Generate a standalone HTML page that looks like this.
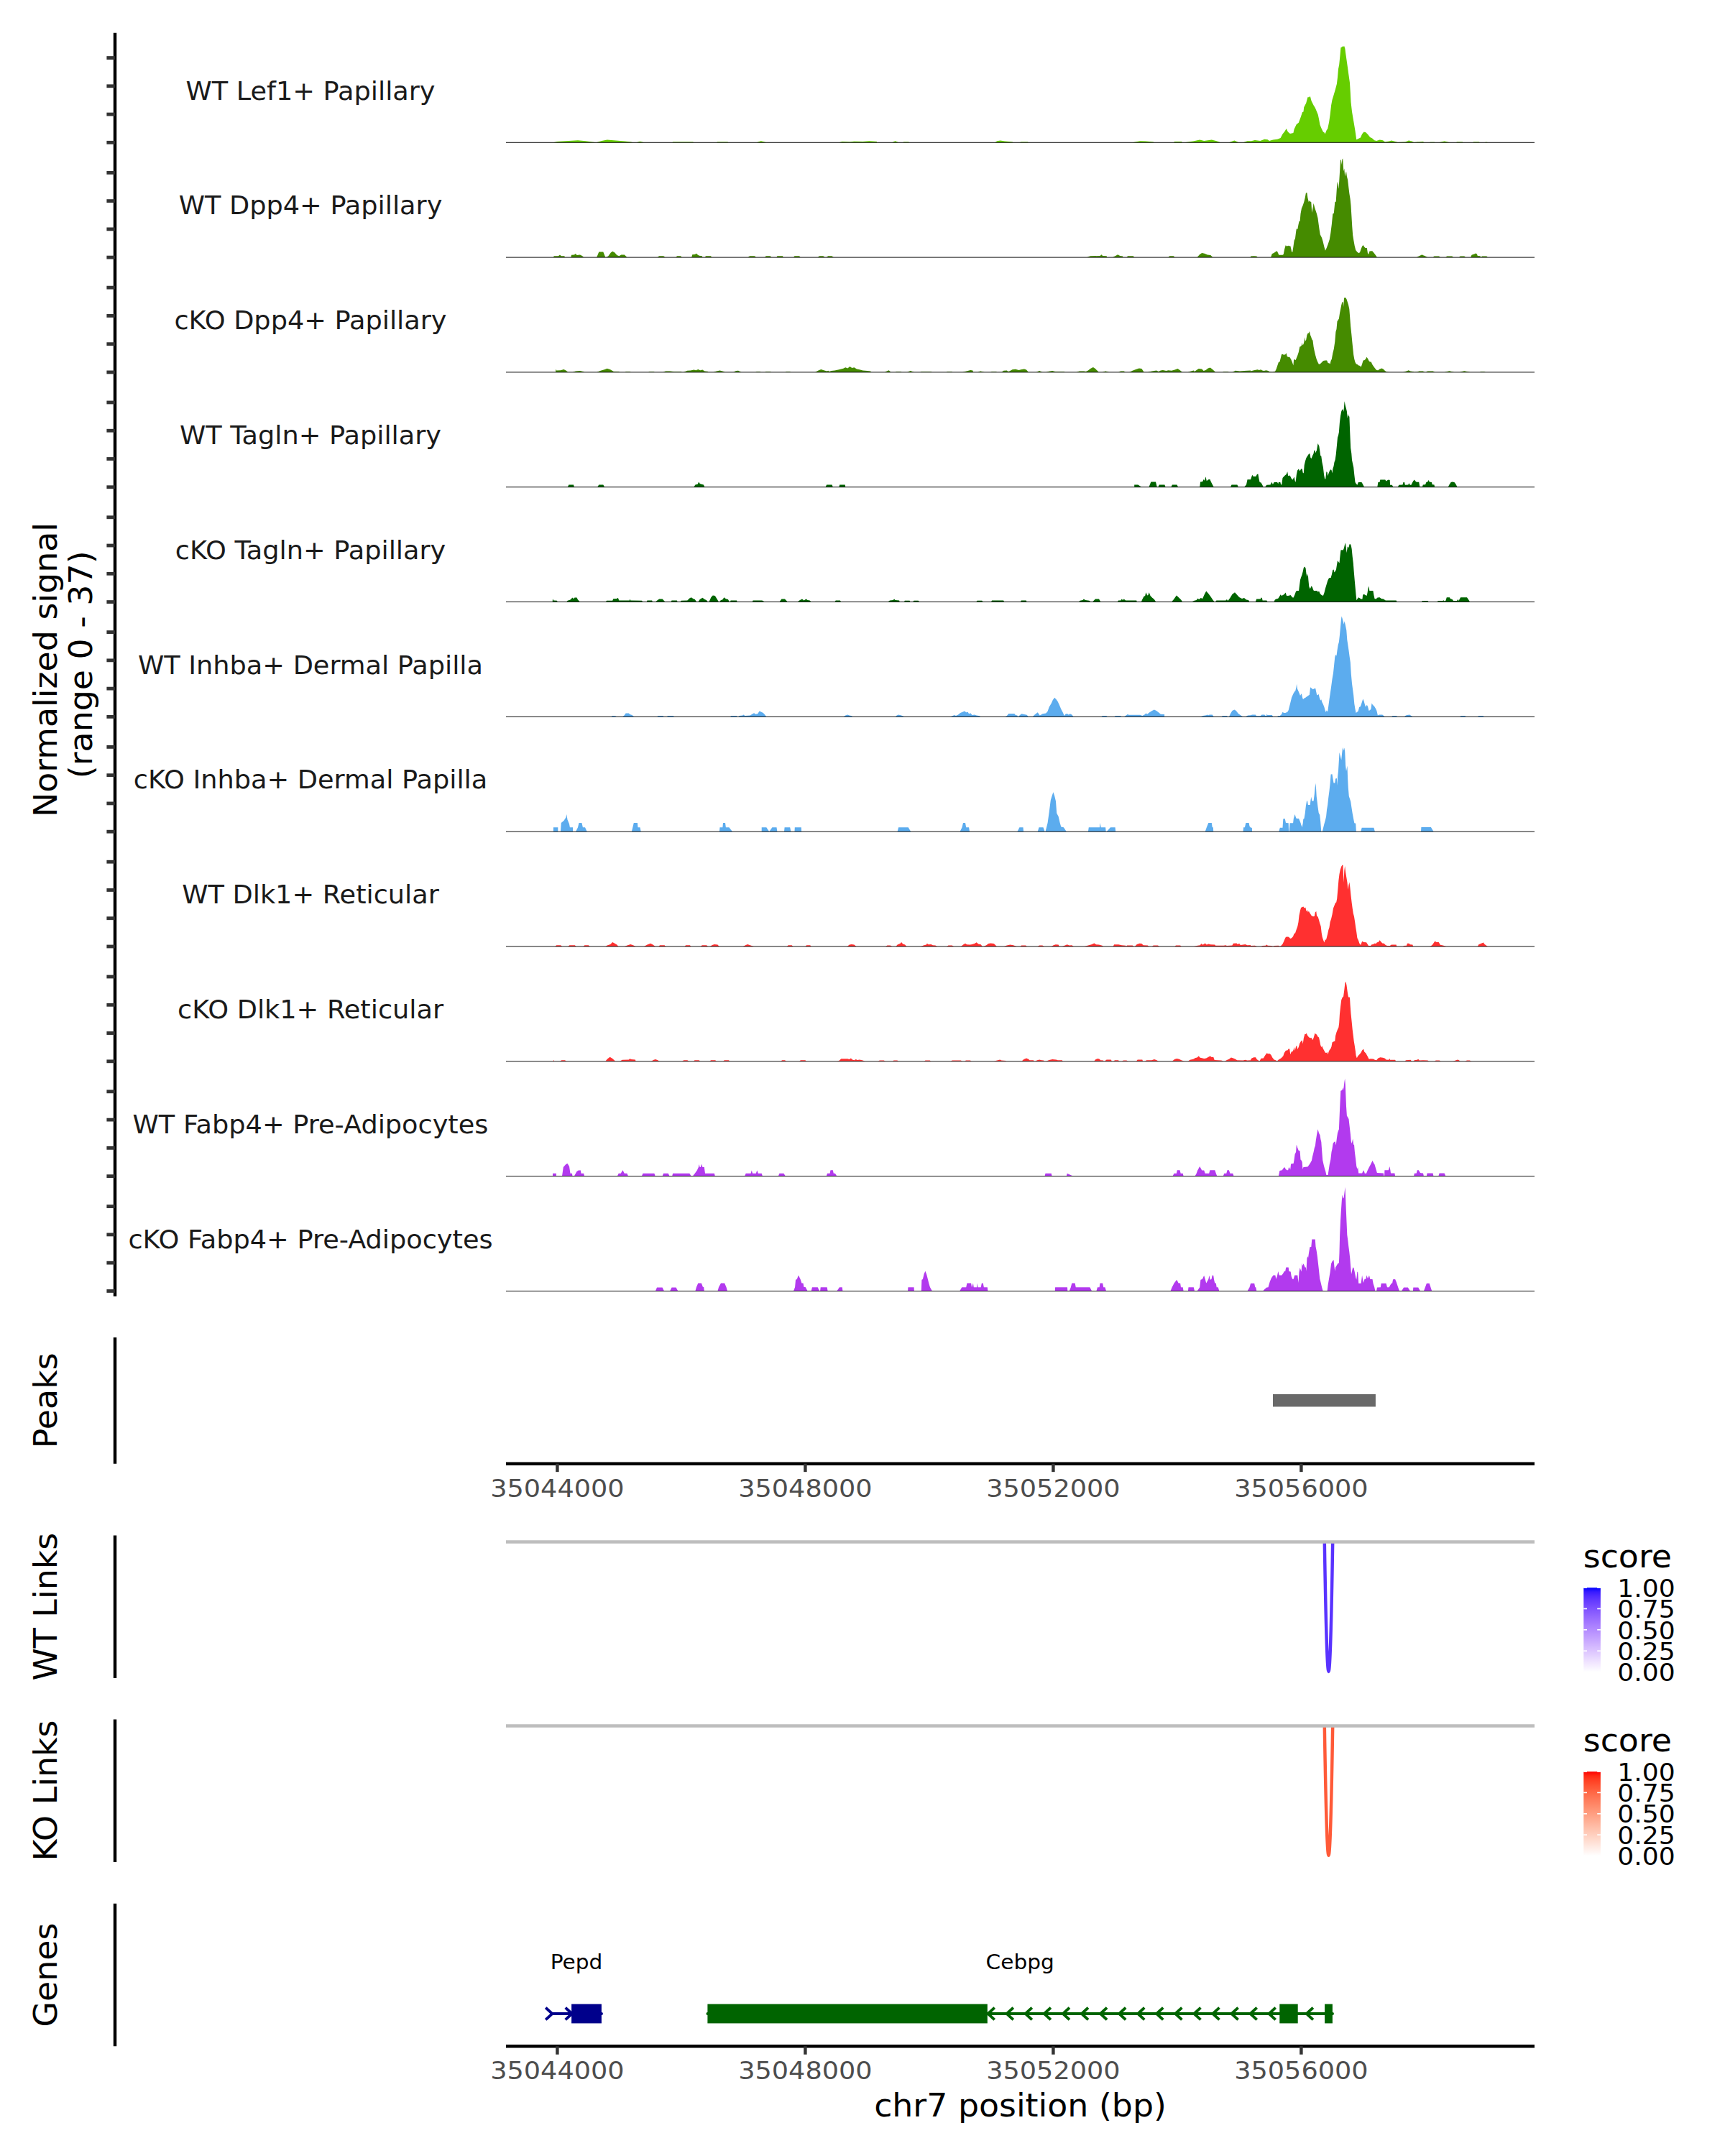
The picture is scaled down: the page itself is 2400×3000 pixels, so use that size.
<!DOCTYPE html>
<html><head><meta charset="utf-8"><title>Coverage plot</title>
<style>html,body{margin:0;padding:0;background:#fff}svg{display:block}</style></head>
<body>
<svg width="2400" height="3000" viewBox="0 0 2400 3000" font-family="DejaVu Sans, Liberation Sans, sans-serif">
<rect width="2400" height="3000" fill="#fff"/>
<defs>
<linearGradient id="gb" x1="0" y1="0" x2="0" y2="1">
<stop offset="0.00" stop-color="#0000ff"/>
<stop offset="0.05" stop-color="#381bff"/>
<stop offset="0.10" stop-color="#502bff"/>
<stop offset="0.15" stop-color="#6239ff"/>
<stop offset="0.20" stop-color="#7145ff"/>
<stop offset="0.25" stop-color="#7e52ff"/>
<stop offset="0.30" stop-color="#8a5dff"/>
<stop offset="0.35" stop-color="#9569ff"/>
<stop offset="0.40" stop-color="#a074ff"/>
<stop offset="0.45" stop-color="#aa80ff"/>
<stop offset="0.50" stop-color="#b38bff"/>
<stop offset="0.55" stop-color="#bc97ff"/>
<stop offset="0.60" stop-color="#c4a2ff"/>
<stop offset="0.65" stop-color="#ccadff"/>
<stop offset="0.70" stop-color="#d4b9ff"/>
<stop offset="0.75" stop-color="#dcc4ff"/>
<stop offset="0.80" stop-color="#e3d0ff"/>
<stop offset="0.85" stop-color="#ebdcff"/>
<stop offset="0.90" stop-color="#f2e7ff"/>
<stop offset="0.95" stop-color="#f8f3ff"/>
<stop offset="1.00" stop-color="#ffffff"/>
</linearGradient>
<linearGradient id="gr" x1="0" y1="0" x2="0" y2="1">
<stop offset="0.00" stop-color="#ff0000"/>
<stop offset="0.05" stop-color="#ff2913"/>
<stop offset="0.10" stop-color="#ff3e22"/>
<stop offset="0.15" stop-color="#ff4d2e"/>
<stop offset="0.20" stop-color="#ff5b3a"/>
<stop offset="0.25" stop-color="#ff6846"/>
<stop offset="0.30" stop-color="#ff7352"/>
<stop offset="0.35" stop-color="#ff7e5e"/>
<stop offset="0.40" stop-color="#ff8969"/>
<stop offset="0.45" stop-color="#ff9475"/>
<stop offset="0.50" stop-color="#ff9e81"/>
<stop offset="0.55" stop-color="#ffa88d"/>
<stop offset="0.60" stop-color="#ffb299"/>
<stop offset="0.65" stop-color="#ffbca6"/>
<stop offset="0.70" stop-color="#ffc6b2"/>
<stop offset="0.75" stop-color="#ffcfbf"/>
<stop offset="0.80" stop-color="#ffd9cb"/>
<stop offset="0.85" stop-color="#ffe2d8"/>
<stop offset="0.90" stop-color="#ffece5"/>
<stop offset="0.95" stop-color="#fff5f2"/>
<stop offset="1.00" stop-color="#ffffff"/>
</linearGradient>
</defs>
<path fill="#66cd00" d="M1740.0,198.3 L1740.0,196.5 L1745.9,195.0 L1753.4,196.1 L1759.3,193.8 L1763.7,194.3 L1766.0,196.1 L1771.2,194.6 L1777.1,193.8 L1781.6,192.1 L1784.5,186.4 L1787.5,182.7 L1789.7,179.0 L1791.9,183.5 L1794.9,186.1 L1797.1,185.4 L1799.4,184.9 L1800.6,179.7 L1803.8,173.1 L1806.8,170.8 L1809.8,162.7 L1812.0,156.0 L1813.5,155.6 L1814.2,149.3 L1817.2,143.4 L1819.4,135.2 L1821.6,135.2 L1822.8,133.7 L1824.6,140.4 L1827.6,146.4 L1829.8,150.1 L1832.0,155.3 L1833.8,159.7 L1835.0,165.6 L1836.5,173.8 L1838.7,179.0 L1840.9,183.5 L1842.4,184.2 L1843.6,186.4 L1845.4,181.7 L1847.2,179.0 L1849.1,170.1 L1850.6,159.7 L1852.1,146.4 L1853.5,138.9 L1855.8,131.5 L1858.0,124.1 L1859.9,116.7 L1861.0,107.8 L1862.0,95.9 L1863.2,90.0 L1864.4,78.1 L1865.4,66.2 L1866.9,65.5 L1867.9,64.4 L1869.1,64.7 L1870.3,64.3 L1871.4,67.7 L1872.1,73.6 L1873.6,84.0 L1875.1,94.4 L1876.5,104.8 L1878.0,115.2 L1878.8,128.5 L1879.5,141.9 L1881.0,155.3 L1882.5,164.2 L1884.0,173.1 L1885.5,182.0 L1887.2,194.3 L1889.9,193.1 L1892.9,191.6 L1895.1,186.4 L1897.6,183.5 L1900.3,184.2 L1903.3,187.2 L1906.2,190.9 L1909.2,192.4 L1912.2,195.3 L1915.1,196.1 L1919.6,194.6 L1924.0,195.3 L1927.0,197.6 L1932.9,196.5 L1935.9,195.6 L1940.4,196.8 L1944.8,198.0 L1955.2,197.6 L1959.7,195.8 L1964.1,196.5 L1967.1,198.0 L1974.5,197.6 L1980.0,197.1 L1980.0,198.3 Z M769.9,198.3 L769.9,198.3 L775.4,197.1 L787.4,196.2 L804.0,195.3 L814.6,196.2 L823.6,197.4 L829.6,198.3 L829.6,198.3 Z M829.6,198.3 L829.6,198.3 L837.2,195.9 L844.7,194.4 L856.8,195.6 L868.8,196.5 L877.9,197.4 L880.9,198.3 L880.9,198.3 Z M885.4,198.3 L885.4,198.3 L890.5,196.8 L896.0,198.3 L896.0,198.3 Z M935.2,198.3 L935.2,198.3 L936.4,197.4 L964.1,197.4 L965.3,198.3 L965.3,198.3 Z M997.0,198.3 L997.0,198.3 L998.2,197.4 L1012.3,197.4 L1013.5,198.3 L1013.5,198.3 Z M1052.7,198.3 L1052.7,198.3 L1058.8,196.2 L1066.3,198.3 L1066.3,198.3 Z M1167.3,198.3 L1167.3,198.3 L1171.8,197.1 L1182.4,197.4 L1188.4,196.8 L1200.5,197.1 L1209.5,196.2 L1220.0,197.1 L1220.0,198.3 L1220.0,198.3 Z M1241.1,198.3 L1241.1,198.3 L1245.6,196.2 L1250.1,198.3 L1250.1,198.3 Z M1256.2,198.3 L1256.2,198.3 L1257.4,197.4 L1264.0,197.4 L1265.2,198.3 L1265.2,198.3 Z M1384.3,198.3 L1384.3,198.3 L1387.3,196.2 L1391.8,195.6 L1397.9,196.5 L1408.4,197.4 L1409.9,198.3 L1409.9,198.3 Z M1419.0,198.3 L1419.0,198.3 L1420.2,197.4 L1429.8,197.4 L1431.0,198.3 L1431.0,198.3 Z M1575.7,198.3 L1575.7,198.3 L1586.3,196.2 L1593.8,196.5 L1604.4,197.4 L1605.9,198.3 L1605.9,198.3 Z M1633.0,198.3 L1633.0,198.3 L1634.2,197.1 L1643.9,197.1 L1645.1,198.3 L1645.1,198.3 Z M1648.1,198.3 L1648.1,198.3 L1660.2,196.5 L1669.2,194.4 L1675.2,195.9 L1685.8,194.4 L1691.8,195.9 L1696.3,197.4 L1697.8,198.3 L1697.8,198.3 Z M1709.9,198.3 L1709.9,198.3 L1717.4,195.6 L1723.5,198.3 L1723.5,198.3 Z M1729.5,198.3 L1729.5,198.3 L1735.5,196.2 L1740.0,196.2 L1740.0,198.3 L1740.0,198.3 Z M1954.7,198.3 L1954.7,198.3 L1960.3,195.5 L1967.7,198.3 L1967.7,198.3 Z M1970.5,198.3 L1970.5,198.3 L1971.2,197.4 L1980.9,197.4 L1981.6,198.3 L1981.6,198.3 Z M1989.1,198.3 L1989.1,198.3 L1989.8,197.7 L1995.7,197.7 L1996.5,198.3 L1996.5,198.3 Z M2002.0,198.3 L2002.0,198.3 L2009.8,196.6 L2016.9,198.3 L2016.9,198.3 Z M2026.2,198.3 L2026.2,198.3 L2026.9,197.6 L2034.7,197.6 L2035.4,198.3 L2035.4,198.3 Z M2049.4,198.3 L2049.4,198.3 L2050.1,197.6 L2057.9,197.6 L2058.6,198.3 L2058.6,198.3 Z M2066.0,198.3 L2066.0,198.3 L2066.8,197.7 L2069.0,197.7 L2069.8,198.3 L2069.8,198.3 Z"/>
<line x1="704.0" x2="2135.0" y1="198.30" y2="198.30" stroke="#111" stroke-width="1.0"/>
<path fill="#458b00" d="M1740.0,358.1 L1740.0,356.6 L1744.5,356.2 L1748.2,356.6 L1749.6,358.1 L1768.2,358.1 L1769.7,353.2 L1772.7,351.7 L1774.9,350.2 L1776.8,349.2 L1778.3,352.5 L1779.3,354.7 L1784.5,354.7 L1785.7,354.0 L1787.2,346.5 L1788.7,341.3 L1790.5,342.8 L1792.2,341.8 L1793.7,342.5 L1795.2,342.1 L1796.4,346.5 L1797.1,350.2 L1798.2,351.0 L1799.4,343.6 L1800.6,334.7 L1802.0,331.7 L1803.1,322.8 L1803.8,318.3 L1805.3,319.1 L1806.5,312.4 L1807.5,307.9 L1808.6,307.7 L1809.5,297.6 L1810.9,290.1 L1812.7,285.7 L1814.2,281.2 L1815.7,275.3 L1816.9,268.6 L1818.4,267.9 L1819.4,275.3 L1820.9,281.2 L1821.9,279.0 L1823.1,280.5 L1824.3,281.2 L1825.3,296.1 L1826.4,290.1 L1827.6,282.7 L1829.1,288.7 L1830.5,293.1 L1832.0,297.6 L1833.5,303.5 L1834.7,312.4 L1835.7,319.8 L1836.8,326.5 L1838.0,328.7 L1839.1,331.0 L1840.6,336.1 L1842.4,343.6 L1843.9,348.8 L1845.7,345.1 L1847.6,339.9 L1849.8,333.2 L1851.3,324.3 L1852.8,312.4 L1854.3,297.6 L1855.8,296.8 L1857.3,281.2 L1858.7,280.5 L1859.5,267.9 L1860.5,253.0 L1861.4,256.0 L1862.3,262.7 L1863.2,253.0 L1864.1,238.2 L1865.0,223.3 L1865.9,221.9 L1866.6,229.3 L1867.3,221.9 L1868.2,220.4 L1868.8,230.8 L1869.4,238.2 L1870.3,234.5 L1871.2,245.6 L1872.1,241.2 L1873.0,238.2 L1873.9,245.6 L1875.1,250.1 L1876.3,260.5 L1877.4,269.4 L1878.6,276.8 L1879.5,285.7 L1880.4,300.5 L1881.3,315.4 L1882.2,327.2 L1883.4,334.7 L1884.7,342.1 L1886.2,348.0 L1888.4,350.7 L1890.6,352.2 L1892.1,351.0 L1893.6,346.5 L1895.1,342.8 L1896.6,341.0 L1898.1,343.6 L1899.6,345.1 L1901.8,345.1 L1903.0,352.5 L1904.0,354.0 L1905.5,349.5 L1909.2,349.2 L1911.4,351.7 L1913.7,354.7 L1915.9,358.1 L1970.8,358.1 L1974.5,356.2 L1977.5,354.7 L1980.0,354.7 L1980.0,358.1 Z M769.9,358.1 L769.9,358.1 L770.8,356.3 L776.9,356.3 L779.0,354.5 L780.8,356.3 L785.3,356.3 L785.9,358.1 L785.9,358.1 Z M794.4,358.1 L794.4,358.1 L795.0,354.8 L798.9,354.5 L801.0,353.0 L802.5,355.1 L807.0,354.5 L810.0,356.0 L812.1,358.1 L812.1,358.1 Z M830.2,358.1 L830.2,358.1 L833.3,350.6 L839.3,350.6 L842.3,358.1 L842.3,358.1 Z M843.2,358.1 L843.2,358.1 L846.2,356.6 L849.8,351.5 L852.2,349.7 L855.3,351.5 L858.3,355.1 L861.3,356.3 L864.3,354.5 L868.8,354.5 L872.4,358.1 L872.4,358.1 Z M914.7,358.1 L914.7,358.1 L917.1,356.3 L923.1,356.3 L925.5,358.1 L925.5,358.1 Z M940.3,358.1 L940.3,358.1 L942.1,356.3 L946.9,356.3 L948.7,358.1 L948.7,358.1 Z M962.3,358.1 L962.3,358.1 L963.2,354.2 L966.8,353.9 L968.9,352.7 L970.7,354.5 L972.8,355.7 L976.8,356.3 L977.4,358.1 L977.4,358.1 Z M981.0,358.1 L981.0,358.1 L981.9,356.3 L989.1,356.3 L990.0,358.1 L990.0,358.1 Z M1040.7,358.1 L1040.7,358.1 L1043.1,356.3 L1049.7,356.3 L1052.1,358.1 L1052.1,358.1 Z M1064.2,358.1 L1064.2,358.1 L1065.7,356.3 L1071.7,356.3 L1073.2,358.1 L1073.2,358.1 Z M1080.5,358.1 L1080.5,358.1 L1081.4,356.3 L1088.9,356.3 L1089.8,358.1 L1089.8,358.1 Z M1104.0,358.1 L1104.0,358.1 L1105.5,356.3 L1112.1,356.3 L1113.6,358.1 L1113.6,358.1 Z M1137.7,358.1 L1137.7,358.1 L1140.2,356.3 L1145.3,356.3 L1147.7,358.1 L1147.7,358.1 Z M1149.8,358.1 L1149.8,358.1 L1152.2,356.3 L1157.3,356.3 L1159.8,358.1 L1159.8,358.1 Z M1512.4,358.1 L1512.4,358.1 L1517.0,356.3 L1530.5,356.0 L1532.6,354.2 L1534.1,356.0 L1539.6,356.3 L1540.2,358.1 L1540.2,358.1 Z M1548.0,358.1 L1548.0,358.1 L1551.6,356.3 L1555.2,354.2 L1558.3,356.0 L1562.2,356.6 L1562.2,358.1 L1562.2,358.1 Z M1567.6,358.1 L1567.6,358.1 L1569.1,356.3 L1576.6,356.3 L1578.2,358.1 L1578.2,358.1 Z M1625.5,358.1 L1625.5,358.1 L1627.3,356.3 L1632.7,356.3 L1634.5,358.1 L1634.5,358.1 Z M1665.6,358.1 L1665.6,358.1 L1669.2,353.9 L1672.2,352.1 L1675.8,352.7 L1679.8,354.5 L1684.3,355.1 L1687.3,358.1 L1687.3,358.1 Z M1970.5,358.1 L1970.5,358.1 L1974.2,356.6 L1977.9,354.4 L1981.6,355.7 L1986.3,358.1 L1986.3,358.1 Z M1993.7,358.1 L1993.7,358.1 L1995.5,356.6 L2002.0,356.6 L2003.9,358.1 L2003.9,358.1 Z M2011.3,358.1 L2011.3,358.1 L2013.2,356.6 L2020.2,356.6 L2022.1,358.1 L2022.1,358.1 Z M2029.9,358.1 L2029.9,358.1 L2031.7,356.6 L2037.3,356.6 L2039.1,358.1 L2039.1,358.1 Z M2046.2,358.1 L2046.2,358.1 L2047.5,354.8 L2051.2,353.5 L2053.1,352.5 L2054.9,353.5 L2055.8,355.9 L2059.6,356.3 L2059.9,358.1 L2059.9,358.1 Z M2060.5,358.1 L2060.5,358.1 L2062.0,356.6 L2068.3,356.6 L2069.8,358.1 L2069.8,358.1 Z"/>
<line x1="704.0" x2="2135.0" y1="358.12" y2="358.12" stroke="#111" stroke-width="1.0"/>
<path fill="#458b00" d="M1740.0,517.9 L1740.0,516.4 L1744.5,515.3 L1749.6,514.2 L1751.9,515.0 L1754.1,514.2 L1756.3,515.6 L1758.6,516.0 L1761.5,515.3 L1764.5,516.0 L1766.7,517.5 L1770.4,517.8 L1774.1,516.7 L1775.6,513.8 L1777.1,509.3 L1778.9,504.1 L1780.4,503.4 L1781.6,498.9 L1783.0,493.3 L1784.5,492.7 L1786.0,493.7 L1788.2,493.3 L1789.7,491.2 L1790.8,496.0 L1792.2,496.7 L1794.2,496.7 L1796.1,499.7 L1797.9,504.1 L1799.4,508.6 L1800.1,500.7 L1801.6,500.1 L1802.6,501.2 L1803.8,498.2 L1805.3,494.5 L1806.8,490.0 L1808.3,482.6 L1809.8,481.9 L1810.9,480.4 L1811.7,476.7 L1812.4,480.4 L1813.5,478.9 L1814.5,475.2 L1815.4,469.2 L1816.1,474.4 L1817.2,473.0 L1818.4,466.3 L1819.4,464.1 L1820.9,463.3 L1821.9,461.1 L1823.1,466.3 L1824.3,469.2 L1825.3,472.2 L1826.5,473.7 L1827.6,482.6 L1828.8,488.5 L1830.2,494.5 L1831.7,499.7 L1833.2,503.4 L1835.0,507.1 L1837.2,506.1 L1839.1,504.1 L1841.2,501.9 L1843.9,501.6 L1846.1,501.6 L1847.6,504.9 L1849.5,505.6 L1850.6,506.4 L1851.6,501.9 L1852.8,499.7 L1854.3,491.5 L1855.8,485.6 L1857.3,475.2 L1858.4,461.8 L1859.5,458.1 L1860.5,447.0 L1861.7,445.5 L1862.9,443.3 L1863.9,436.6 L1865.0,430.7 L1866.2,424.7 L1867.3,420.3 L1868.5,420.6 L1869.1,426.9 L1870.0,415.1 L1870.9,414.0 L1872.4,414.6 L1873.6,416.6 L1874.8,420.3 L1876.0,424.0 L1877.3,429.9 L1878.3,442.5 L1879.2,454.4 L1880.3,464.8 L1881.3,475.2 L1882.2,484.1 L1883.2,493.7 L1884.3,499.7 L1885.5,504.1 L1886.9,506.4 L1888.4,507.1 L1890.2,508.6 L1892.1,509.0 L1893.6,510.8 L1895.1,506.4 L1896.6,501.6 L1898.1,501.2 L1900.0,499.7 L1901.5,496.7 L1903.0,498.9 L1904.5,501.9 L1905.9,503.4 L1907.7,503.4 L1909.2,507.1 L1910.7,509.3 L1912.9,512.3 L1915.1,515.0 L1917.4,515.3 L1919.6,513.5 L1922.6,512.6 L1924.8,513.8 L1927.0,516.0 L1929.2,517.5 L1932.9,517.9 L1952.2,517.9 L1956.7,516.4 L1959.7,515.6 L1962.6,516.7 L1967.1,517.8 L1971.5,517.5 L1974.5,516.4 L1980.0,516.7 L1980.0,517.9 Z M773.0,517.9 L773.0,517.9 L773.3,513.4 L774.2,515.5 L779.9,515.2 L784.4,514.0 L787.4,515.5 L790.4,517.9 L790.4,517.9 Z M796.5,517.9 L796.5,517.9 L801.0,516.4 L807.0,516.1 L812.1,517.3 L813.1,517.9 L813.1,517.9 Z M830.2,517.9 L830.2,517.9 L835.7,515.8 L841.7,514.0 L844.7,512.8 L849.2,514.3 L853.8,517.0 L861.3,517.3 L861.9,517.9 L861.9,517.9 Z M869.4,517.9 L869.4,517.9 L870.9,517.3 L876.4,517.3 L877.9,517.9 L877.9,517.9 Z M902.0,517.9 L902.0,517.9 L903.5,517.3 L909.5,517.3 L911.0,517.9 L911.0,517.9 Z M922.5,517.9 L922.5,517.9 L926.1,516.4 L932.1,516.4 L938.2,517.3 L947.8,517.3 L948.7,517.9 L948.7,517.9 Z M950.8,517.9 L950.8,517.9 L956.3,515.8 L960.8,515.5 L965.3,514.6 L968.3,515.2 L971.3,514.0 L974.3,515.2 L977.4,514.6 L980.4,516.4 L984.9,517.0 L985.5,517.9 L985.5,517.9 Z M992.4,517.9 L992.4,517.9 L997.0,516.4 L1001.5,515.5 L1006.0,516.7 L1009.0,517.9 L1009.0,517.9 Z M1020.2,517.9 L1020.2,517.9 L1024.1,516.1 L1027.1,515.8 L1031.6,517.9 L1031.6,517.9 Z M1051.2,517.9 L1051.2,517.9 L1052.7,517.3 L1057.3,517.3 L1058.8,517.9 L1058.8,517.9 Z M1064.2,517.9 L1064.2,517.9 L1065.7,517.3 L1071.7,517.3 L1073.2,517.9 L1073.2,517.9 Z M1092.5,517.9 L1092.5,517.9 L1094.0,517.3 L1098.9,517.3 L1100.4,517.9 L1100.4,517.9 Z M1134.1,517.9 L1134.1,517.9 L1138.6,515.5 L1142.3,514.0 L1146.2,515.2 L1150.7,516.4 L1152.2,515.8 L1153.7,517.0 L1156.7,516.1 L1161.3,515.5 L1167.3,514.3 L1173.3,512.8 L1176.3,511.3 L1179.3,512.5 L1182.4,510.1 L1185.4,511.9 L1188.4,511.3 L1192.0,513.4 L1195.9,514.3 L1200.5,515.5 L1206.5,516.1 L1211.0,516.4 L1212.5,517.9 L1212.5,517.9 Z M1230.6,517.9 L1230.6,517.9 L1236.6,515.2 L1239.6,517.9 L1239.6,517.9 Z M1245.6,517.9 L1245.6,517.9 L1247.1,517.3 L1253.2,517.3 L1254.7,517.9 L1254.7,517.9 Z M1262.2,517.9 L1262.2,517.9 L1266.7,516.1 L1271.9,517.9 L1271.9,517.9 Z M1280.3,517.9 L1280.3,517.9 L1281.8,517.3 L1295.4,517.3 L1296.9,517.9 L1296.9,517.9 Z M1316.5,517.9 L1316.5,517.9 L1318.0,517.3 L1324.0,517.3 L1325.5,517.9 L1325.5,517.9 Z M1339.1,517.9 L1339.1,517.9 L1346.6,516.1 L1350.2,514.9 L1353.3,515.5 L1354.2,517.9 L1354.2,517.9 Z M1360.2,517.9 L1360.2,517.9 L1364.1,516.4 L1369.8,517.9 L1369.8,517.9 Z M1378.3,517.9 L1378.3,517.9 L1379.8,517.3 L1385.8,517.3 L1387.3,517.9 L1387.3,517.9 Z M1393.3,517.9 L1393.3,517.9 L1396.4,515.8 L1400.9,515.5 L1402.4,517.0 L1404.5,516.4 L1408.4,514.3 L1412.9,513.7 L1417.5,514.9 L1420.5,514.3 L1425.0,513.4 L1428.0,514.6 L1431.0,517.9 L1431.0,517.9 Z M1441.6,517.9 L1441.6,517.9 L1446.1,516.1 L1450.6,517.9 L1450.6,517.9 Z M1455.2,517.9 L1455.2,517.9 L1459.7,516.7 L1464.2,516.1 L1468.7,517.3 L1480.8,517.3 L1481.4,517.9 L1481.4,517.9 Z M1497.4,517.9 L1497.4,517.9 L1501.9,516.4 L1507.9,516.4 L1510.9,517.0 L1513.9,515.5 L1517.0,513.1 L1520.9,511.0 L1523.9,513.1 L1527.5,516.4 L1528.7,517.9 L1528.7,517.9 Z M1533.5,517.9 L1533.5,517.9 L1538.1,516.4 L1543.2,517.9 L1543.2,517.9 Z M1556.1,517.9 L1556.1,517.9 L1559.2,516.4 L1563.7,516.4 L1565.8,517.9 L1565.8,517.9 Z M1571.2,517.9 L1571.2,517.9 L1575.7,515.8 L1580.3,514.0 L1584.8,512.5 L1588.4,513.1 L1590.8,516.4 L1591.4,517.9 L1591.4,517.9 Z M1596.8,517.9 L1596.8,517.9 L1602.9,516.4 L1608.9,515.5 L1611.9,517.0 L1614.9,515.5 L1617.9,514.9 L1622.5,516.1 L1625.5,515.2 L1630.0,515.8 L1634.5,514.6 L1638.5,513.1 L1641.5,514.9 L1645.1,517.9 L1645.1,517.9 Z M1652.6,517.9 L1652.6,517.9 L1657.1,516.4 L1660.8,515.5 L1662.0,517.0 L1664.7,514.9 L1667.7,513.1 L1672.2,513.4 L1674.6,516.1 L1677.6,514.9 L1680.7,512.5 L1683.7,511.6 L1686.7,513.7 L1690.3,517.0 L1690.9,517.9 L1690.9,517.9 Z M1700.9,517.9 L1700.9,517.9 L1702.4,517.3 L1708.4,517.3 L1709.9,517.9 L1709.9,517.9 Z M1714.4,517.9 L1714.4,517.9 L1718.9,515.8 L1725.0,516.4 L1731.0,516.1 L1740.0,515.5 L1740.0,517.9 L1740.0,517.9 Z M1951.9,517.9 L1951.9,517.9 L1956.6,516.8 L1959.7,515.3 L1962.2,516.4 L1966.8,517.2 L1967.7,517.9 L1967.7,517.9 Z M1971.4,517.9 L1971.4,517.9 L1974.2,516.4 L1979.8,516.4 L1982.6,517.9 L1982.6,517.9 Z M1983.5,517.9 L1983.5,517.9 L1986.3,516.4 L1993.7,516.4 L1996.5,517.9 L1996.5,517.9 Z M2009.5,517.9 L2009.5,517.9 L2016.5,516.3 L2023.4,517.9 L2023.4,517.9 Z M2030.8,517.9 L2030.8,517.9 L2037.3,516.3 L2045.6,517.9 L2045.6,517.9 Z M2058.6,517.9 L2058.6,517.9 L2060.5,517.2 L2065.1,517.2 L2067.0,517.9 L2067.0,517.9 Z"/>
<line x1="704.0" x2="2135.0" y1="517.93" y2="517.93" stroke="#111" stroke-width="1.0"/>
<path fill="#006400" d="M1740.0,677.7 L1740.0,667.4 L1742.2,660.7 L1743.7,662.9 L1747.4,662.9 L1748.9,659.9 L1750.4,659.6 L1751.6,666.6 L1752.6,671.1 L1754.5,671.4 L1756.3,674.8 L1757.8,677.7 L1760.0,677.7 L1762.3,674.8 L1767.5,674.5 L1769.4,670.8 L1770.9,674.0 L1772.7,671.1 L1777.1,671.1 L1778.3,673.3 L1778.9,671.1 L1781.3,671.1 L1782.3,674.8 L1783.3,674.0 L1784.5,665.1 L1786.3,662.9 L1787.8,661.4 L1789.7,659.9 L1791.2,656.2 L1792.2,662.2 L1794.2,661.4 L1795.7,663.6 L1797.1,666.6 L1798.6,667.4 L1800.6,663.6 L1801.6,668.8 L1802.6,671.1 L1803.8,660.7 L1805.0,654.7 L1806.8,652.5 L1808.6,655.5 L1810.1,652.5 L1811.7,652.5 L1812.7,657.7 L1813.8,658.5 L1814.7,647.3 L1816.0,641.4 L1817.5,636.9 L1819.4,634.0 L1820.9,631.7 L1822.4,631.0 L1823.4,636.9 L1824.6,638.1 L1826.1,634.0 L1827.6,631.0 L1828.3,626.8 L1829.5,626.8 L1830.2,630.2 L1832.0,626.5 L1833.5,616.9 L1835.3,620.6 L1836.5,628.8 L1837.2,634.0 L1838.3,634.7 L1839.4,642.9 L1840.9,650.3 L1842.1,660.7 L1843.2,666.6 L1844.2,666.6 L1845.4,656.2 L1846.6,657.0 L1847.2,662.2 L1848.6,658.5 L1850.1,654.7 L1851.6,653.3 L1852.5,654.0 L1853.5,658.5 L1854.3,652.5 L1855.5,648.8 L1856.5,642.9 L1857.6,639.9 L1858.7,632.5 L1859.9,620.6 L1861.0,608.7 L1862.0,605.8 L1862.9,601.3 L1863.9,587.9 L1865.0,579.0 L1866.2,572.4 L1867.3,570.1 L1868.5,569.4 L1869.4,573.1 L1870.6,558.3 L1871.8,564.2 L1873.0,568.7 L1873.9,572.4 L1874.8,582.0 L1875.7,576.1 L1876.5,579.0 L1877.4,579.8 L1878.3,602.8 L1879.2,623.6 L1880.3,631.0 L1881.0,639.9 L1882.2,645.8 L1883.2,650.3 L1884.3,660.7 L1885.5,671.1 L1886.9,673.3 L1888.4,674.8 L1889.9,671.1 L1894.4,671.1 L1895.8,673.3 L1898.1,677.7 L1916.3,677.7 L1917.4,671.1 L1919.6,670.8 L1920.3,667.4 L1927.3,667.4 L1928.5,669.6 L1930.7,668.1 L1932.2,667.4 L1933.7,668.1 L1934.1,674.8 L1936.7,674.8 L1938.6,677.7 L1944.8,677.7 L1946.3,674.8 L1951.5,674.5 L1952.5,671.1 L1954.0,671.1 L1954.9,674.8 L1959.4,674.5 L1960.1,672.3 L1961.9,674.8 L1963.4,674.8 L1964.9,671.8 L1966.3,669.3 L1967.8,667.4 L1969.3,669.6 L1970.8,670.8 L1974.2,670.8 L1975.3,677.0 L1979.0,677.0 L1980.0,674.8 L1980.0,677.7 Z M789.8,677.7 L789.8,677.7 L791.3,674.4 L798.0,674.4 L798.9,677.7 L798.9,677.7 Z M831.1,677.7 L831.1,677.7 L833.3,674.4 L839.3,674.4 L841.1,677.7 L841.1,677.7 Z M965.3,677.7 L965.3,677.7 L967.4,674.4 L970.7,673.8 L972.2,670.5 L973.7,672.9 L975.9,673.8 L978.9,674.4 L980.4,677.7 L980.4,677.7 Z M1148.6,677.7 L1148.6,677.7 L1150.1,674.4 L1157.6,674.4 L1158.8,677.7 L1158.8,677.7 Z M1167.3,677.7 L1167.3,677.7 L1168.2,674.4 L1175.7,674.4 L1176.3,677.7 L1176.3,677.7 Z M1578.2,677.7 L1578.2,677.7 L1578.2,674.4 L1583.3,674.4 L1588.4,677.7 L1588.4,677.7 Z M1598.4,677.7 L1598.4,677.7 L1601.4,670.5 L1608.0,670.5 L1609.8,677.7 L1609.8,677.7 Z M1611.3,677.7 L1611.3,677.7 L1612.8,674.4 L1620.4,674.4 L1621.6,677.7 L1621.6,677.7 Z M1629.4,677.7 L1629.4,677.7 L1630.9,674.4 L1637.5,674.4 L1639.1,677.7 L1639.1,677.7 Z M1669.2,677.7 L1669.2,677.7 L1670.1,670.5 L1673.1,670.2 L1674.6,666.9 L1675.8,668.7 L1677.6,663.3 L1678.8,669.3 L1681.3,667.2 L1683.4,666.9 L1684.9,670.5 L1686.7,674.1 L1688.8,677.7 L1688.8,677.7 Z M1712.0,677.7 L1712.0,677.7 L1713.5,674.4 L1721.4,674.4 L1722.9,677.7 L1722.9,677.7 Z M1731.0,677.7 L1731.0,677.7 L1734.0,674.4 L1735.5,667.2 L1740.0,667.2 L1740.0,677.7 L1740.0,677.7 Z M1978.8,677.7 L1978.8,677.7 L1979.8,674.6 L1983.1,674.2 L1984.4,671.1 L1986.8,670.0 L1987.6,667.7 L1988.7,670.5 L1991.8,671.1 L1992.8,674.2 L1995.5,674.6 L1996.1,677.7 L1996.1,677.7 Z M2014.7,677.7 L2014.7,677.7 L2016.5,674.2 L2018.7,671.1 L2020.6,670.5 L2023.4,670.9 L2025.2,673.3 L2027.6,677.7 L2027.6,677.7 Z"/>
<line x1="704.0" x2="2135.0" y1="677.75" y2="677.75" stroke="#111" stroke-width="1.0"/>
<path fill="#006400" d="M1746.7,837.6 L1746.7,837.6 L1748.2,833.6 L1753.7,833.4 L1754.8,831.3 L1756.0,832.4 L1756.6,835.6 L1762.3,835.6 L1763.7,837.6 L1772.4,837.6 L1773.8,834.6 L1775.6,833.4 L1778.3,832.8 L1780.1,830.1 L1781.6,827.2 L1783.0,829.1 L1784.5,828.2 L1786.3,827.2 L1787.5,826.1 L1788.7,824.6 L1789.9,828.7 L1791.2,829.1 L1794.2,828.7 L1794.9,827.6 L1796.4,829.1 L1797.9,831.2 L1799.7,831.6 L1801.2,827.9 L1803.1,822.7 L1804.6,822.0 L1807.1,822.0 L1808.0,814.6 L1809.0,807.1 L1810.1,803.4 L1811.5,799.7 L1812.7,795.3 L1813.8,790.1 L1815.4,788.6 L1816.6,790.8 L1817.5,798.2 L1818.7,802.7 L1819.7,798.2 L1820.4,807.1 L1821.3,816.0 L1822.4,819.0 L1823.4,818.3 L1824.3,815.6 L1825.8,816.8 L1826.8,819.7 L1827.9,822.0 L1832.8,822.0 L1833.8,824.2 L1835.0,822.3 L1836.5,825.7 L1838.0,827.6 L1839.4,828.2 L1840.9,829.1 L1842.4,824.9 L1843.9,819.0 L1845.7,813.1 L1847.2,807.9 L1848.6,804.9 L1849.8,803.9 L1851.6,803.9 L1852.8,799.7 L1854.3,793.0 L1855.5,792.6 L1856.5,796.4 L1858.0,794.5 L1859.0,792.3 L1859.9,786.4 L1861.0,780.1 L1862.4,781.9 L1863.5,783.4 L1864.4,774.5 L1865.4,765.6 L1866.9,765.3 L1868.8,765.6 L1869.9,762.6 L1870.9,758.2 L1871.8,755.2 L1872.7,761.1 L1873.6,769.3 L1874.8,761.1 L1875.7,760.4 L1876.5,762.6 L1877.4,757.4 L1878.6,757.1 L1879.8,759.3 L1880.7,764.1 L1881.7,774.5 L1882.8,783.4 L1883.7,795.3 L1884.7,807.1 L1885.8,819.0 L1886.6,827.9 L1887.4,835.3 L1888.7,833.1 L1890.2,831.3 L1892.1,832.4 L1893.6,833.4 L1895.5,833.6 L1896.1,827.9 L1897.6,826.7 L1899.6,827.9 L1901.5,829.1 L1902.5,824.9 L1903.6,818.3 L1904.5,815.6 L1905.3,822.0 L1910.4,822.0 L1911.4,827.9 L1912.5,833.1 L1914.4,833.6 L1916.6,831.6 L1919.6,831.3 L1921.8,833.1 L1924.8,833.6 L1927.8,835.6 L1942.6,835.6 L1943.6,837.6 L1977.5,837.6 L1979.0,836.1 L1980.0,836.1 L1980.0,837.6 Z M768.7,837.6 L768.7,837.6 L769.0,833.3 L770.2,835.4 L774.8,835.8 L776.0,837.6 L776.0,837.6 Z M788.0,837.6 L788.0,837.6 L789.8,835.8 L793.5,834.5 L796.5,831.5 L798.0,833.3 L799.5,831.5 L802.5,831.5 L804.0,834.5 L807.0,837.6 L807.0,837.6 Z M842.6,837.6 L842.6,837.6 L844.1,835.8 L852.2,835.8 L853.2,833.3 L858.3,833.0 L859.8,831.8 L861.3,835.4 L875.8,835.4 L876.4,833.6 L877.3,835.4 L892.9,835.8 L894.5,837.6 L894.5,837.6 Z M899.6,837.6 L899.6,837.6 L900.5,835.4 L907.1,835.4 L908.0,837.6 L908.0,837.6 Z M911.9,837.6 L911.9,837.6 L914.0,835.8 L917.1,833.6 L921.6,833.6 L925.5,837.6 L925.5,837.6 Z M933.6,837.6 L933.6,837.6 L934.5,835.4 L941.8,835.4 L942.7,837.6 L942.7,837.6 Z M946.3,837.6 L946.3,837.6 L947.8,835.8 L956.3,835.4 L959.3,832.4 L961.7,831.2 L964.7,833.3 L966.8,833.9 L969.2,837.6 L969.2,837.6 Z M971.3,837.6 L971.3,837.6 L973.7,833.9 L977.4,831.8 L980.4,833.9 L982.8,835.1 L984.9,837.6 L984.9,837.6 Z M986.4,837.6 L986.4,837.6 L989.4,830.9 L991.8,828.5 L994.8,829.1 L997.9,833.9 L1000.0,837.6 L1000.0,837.6 Z M1000.9,837.6 L1000.9,837.6 L1003.0,835.1 L1005.1,834.5 L1007.5,831.2 L1009.9,833.3 L1012.9,833.9 L1015.0,837.6 L1015.0,837.6 Z M1015.9,837.6 L1015.9,837.6 L1016.6,835.4 L1025.0,835.4 L1025.6,837.6 L1025.6,837.6 Z M1046.7,837.6 L1046.7,837.6 L1047.6,835.4 L1060.3,835.4 L1064.2,837.6 L1064.2,837.6 Z M1084.4,837.6 L1084.4,837.6 L1087.4,833.6 L1091.9,833.6 L1095.8,837.6 L1095.8,837.6 Z M1109.4,837.6 L1109.4,837.6 L1113.0,835.1 L1116.0,833.6 L1118.5,835.4 L1121.5,833.6 L1123.6,835.1 L1126.6,835.4 L1128.7,837.6 L1128.7,837.6 Z M1161.3,837.6 L1161.3,837.6 L1162.8,835.4 L1168.8,835.4 L1170.3,837.6 L1170.3,837.6 Z M1235.1,837.6 L1235.1,837.6 L1238.1,835.4 L1242.6,835.1 L1244.1,833.6 L1245.6,835.1 L1251.1,835.4 L1251.7,837.6 L1251.7,837.6 Z M1257.7,837.6 L1257.7,837.6 L1258.9,835.8 L1265.5,835.8 L1266.7,837.6 L1266.7,837.6 Z M1269.7,837.6 L1269.7,837.6 L1271.6,835.8 L1277.6,835.8 L1279.4,837.6 L1279.4,837.6 Z M1358.1,837.6 L1358.1,837.6 L1359.6,835.8 L1366.2,835.8 L1367.7,837.6 L1367.7,837.6 Z M1378.9,837.6 L1378.9,837.6 L1380.1,835.4 L1396.1,835.4 L1397.3,837.6 L1397.3,837.6 Z M1419.9,837.6 L1419.9,837.6 L1420.8,835.4 L1427.7,835.4 L1428.6,837.6 L1428.6,837.6 Z M1500.4,837.6 L1500.4,837.6 L1502.8,835.8 L1506.4,835.1 L1507.9,833.6 L1510.0,835.1 L1515.4,835.8 L1517.9,837.6 L1517.9,837.6 Z M1520.0,837.6 L1520.0,837.6 L1523.9,833.6 L1529.0,833.6 L1531.4,837.6 L1531.4,837.6 Z M1554.6,837.6 L1554.6,837.6 L1556.1,835.4 L1559.2,835.4 L1560.7,833.6 L1562.2,835.1 L1563.7,833.6 L1566.1,835.4 L1581.2,835.4 L1581.8,837.6 L1581.8,837.6 Z M1587.8,837.6 L1587.8,837.6 L1589.3,833.9 L1591.4,830.0 L1593.2,829.1 L1594.4,824.3 L1596.2,828.5 L1597.4,827.9 L1598.7,824.3 L1600.5,829.1 L1602.9,831.5 L1605.9,833.9 L1608.3,837.6 L1608.3,837.6 Z M1630.0,837.6 L1630.0,837.6 L1633.0,833.9 L1636.9,828.5 L1640.6,832.1 L1643.6,835.1 L1645.1,837.6 L1645.1,837.6 Z M1657.7,837.6 L1657.7,837.6 L1661.7,835.8 L1664.7,835.1 L1666.2,832.7 L1668.3,833.9 L1670.7,832.1 L1673.1,833.0 L1675.8,827.0 L1678.2,822.5 L1681.3,826.1 L1684.3,830.0 L1687.3,834.5 L1689.7,837.6 L1689.7,837.6 Z M1690.9,837.6 L1690.9,837.6 L1692.4,835.4 L1705.4,835.4 L1706.9,833.9 L1708.4,836.1 L1711.4,832.1 L1714.4,827.0 L1718.0,824.3 L1720.5,827.0 L1724.1,830.9 L1728.0,833.0 L1731.0,832.1 L1734.0,834.5 L1737.0,835.1 L1738.5,837.6 L1738.5,837.6 Z M1977.9,837.6 L1977.9,837.6 L1980.7,835.9 L1986.3,835.9 L1988.1,837.6 L1988.1,837.6 Z M1998.7,837.6 L1998.7,837.6 L2001.1,835.9 L2007.6,835.9 L2008.2,835.0 L2009.1,836.3 L2011.3,835.9 L2012.8,831.3 L2016.9,831.3 L2017.8,833.1 L2020.6,834.0 L2022.1,835.9 L2027.1,835.9 L2028.4,833.7 L2029.5,835.9 L2032.1,831.3 L2041.0,831.3 L2042.9,834.0 L2045.1,837.6 L2045.1,837.6 Z"/>
<line x1="704.0" x2="2135.0" y1="837.56" y2="837.56" stroke="#111" stroke-width="1.0"/>
<path fill="#5cacee" d="M1740.0,997.4 L1740.0,995.3 L1742.2,994.6 L1746.7,994.6 L1748.2,996.3 L1753.4,996.3 L1755.6,994.6 L1759.3,994.6 L1760.8,995.9 L1762.0,995.9 L1762.6,993.4 L1763.5,994.9 L1769.7,994.9 L1771.5,997.4 L1776.8,997.4 L1778.3,996.0 L1780.8,995.9 L1783.0,994.1 L1784.5,990.8 L1786.3,991.9 L1788.2,991.9 L1791.2,990.8 L1792.7,988.2 L1794.2,982.2 L1795.7,976.3 L1797.1,970.4 L1798.2,968.1 L1799.4,965.2 L1801.2,962.2 L1802.3,961.2 L1803.5,956.3 L1804.1,951.8 L1805.0,958.5 L1806.5,961.8 L1808.0,965.2 L1809.0,968.1 L1810.1,965.9 L1810.9,965.2 L1812.0,970.4 L1813.0,973.3 L1814.2,971.8 L1816.0,971.1 L1817.9,969.6 L1820.1,968.1 L1821.9,966.7 L1823.1,956.3 L1824.9,957.7 L1826.8,959.2 L1828.3,958.2 L1830.2,957.7 L1831.3,962.9 L1832.3,967.4 L1833.5,966.7 L1834.7,965.9 L1835.7,970.4 L1837.2,974.8 L1838.3,973.3 L1839.4,977.0 L1840.9,980.0 L1842.4,983.7 L1843.6,988.2 L1844.8,991.1 L1845.7,988.5 L1847.2,990.4 L1848.3,982.2 L1849.5,973.3 L1850.6,965.9 L1852.1,955.5 L1853.5,945.1 L1855.0,936.2 L1856.1,925.8 L1857.3,914.0 L1858.3,911.0 L1859.5,912.5 L1860.5,905.1 L1861.7,897.6 L1862.9,893.2 L1863.9,884.3 L1865.0,872.4 L1865.9,862.0 L1866.6,857.6 L1867.6,860.5 L1868.8,865.0 L1869.7,868.7 L1870.6,864.2 L1871.8,869.4 L1873.3,876.9 L1874.3,890.2 L1875.4,897.6 L1876.5,905.1 L1877.7,914.0 L1878.8,921.4 L1879.8,937.7 L1881.0,951.1 L1882.2,960.0 L1883.2,967.4 L1884.3,979.3 L1885.5,986.7 L1886.6,991.9 L1888.1,990.8 L1889.6,989.7 L1891.1,984.0 L1892.9,983.0 L1894.4,978.5 L1896.3,972.6 L1897.6,975.6 L1898.8,980.0 L1900.0,983.7 L1901.8,980.8 L1903.0,983.0 L1904.5,988.9 L1905.9,988.2 L1907.4,986.7 L1908.5,978.5 L1909.9,980.8 L1912.2,983.0 L1914.0,985.9 L1915.4,988.9 L1916.9,995.6 L1918.8,994.6 L1923.3,994.6 L1925.2,995.9 L1926.7,997.4 L1935.9,997.4 L1937.4,996.0 L1942.6,996.0 L1944.8,997.4 L1953.7,997.4 L1955.2,996.0 L1957.4,994.9 L1961.2,994.6 L1963.4,996.0 L1966.3,997.4 L1966.3,997.4 Z M849.8,997.4 L849.8,997.4 L852.2,995.9 L856.2,996.2 L858.3,997.4 L858.3,997.4 Z M865.8,997.4 L865.8,997.4 L868.8,995.3 L870.6,992.6 L874.9,992.6 L876.4,994.1 L879.4,995.0 L882.4,997.4 L882.4,997.4 Z M914.0,997.4 L914.0,997.4 L915.6,995.9 L922.5,995.9 L923.7,997.4 L923.7,997.4 Z M927.6,997.4 L927.6,997.4 L929.1,995.9 L936.7,995.9 L938.2,997.4 L938.2,997.4 Z M1015.9,997.4 L1015.9,997.4 L1017.2,995.9 L1025.0,995.9 L1025.6,997.4 L1025.6,997.4 Z M1027.1,997.4 L1027.1,997.4 L1028.6,995.9 L1033.1,995.6 L1034.6,994.4 L1036.4,995.9 L1043.7,995.6 L1046.7,993.5 L1049.1,992.2 L1051.2,993.8 L1054.2,993.2 L1056.6,989.5 L1059.4,990.7 L1061.8,991.9 L1064.2,994.4 L1066.3,997.4 L1066.3,997.4 Z M1173.3,997.4 L1173.3,997.4 L1176.3,995.6 L1179.3,994.4 L1181.8,995.6 L1185.4,996.2 L1186.0,997.4 L1186.0,997.4 Z M1245.6,997.4 L1245.6,997.4 L1247.7,995.6 L1250.1,994.4 L1253.2,995.3 L1256.8,996.5 L1257.7,997.4 L1257.7,997.4 Z M1321.9,997.4 L1321.9,997.4 L1325.5,995.9 L1327.9,995.0 L1330.0,995.9 L1333.1,994.4 L1336.1,991.9 L1339.1,990.7 L1342.1,989.5 L1344.2,991.3 L1346.6,990.7 L1348.1,993.2 L1350.2,992.2 L1352.6,995.0 L1355.7,994.4 L1358.7,995.6 L1363.2,996.2 L1364.1,997.4 L1364.1,997.4 Z M1397.9,997.4 L1397.9,997.4 L1400.9,995.9 L1403.3,992.9 L1411.4,992.9 L1412.9,995.0 L1415.4,995.6 L1416.0,997.4 L1416.0,997.4 Z M1416.6,997.4 L1416.6,997.4 L1419.0,995.0 L1421.4,993.2 L1425.0,994.1 L1428.6,994.7 L1431.0,997.4 L1431.0,997.4 Z M1436.5,997.4 L1436.5,997.4 L1439.5,994.4 L1443.7,991.3 L1445.5,993.8 L1446.7,995.6 L1448.5,994.4 L1450.6,993.2 L1455.2,992.6 L1457.6,989.8 L1459.7,983.8 L1462.7,978.7 L1464.8,973.9 L1467.2,970.8 L1469.6,973.3 L1471.7,976.3 L1473.8,980.8 L1476.3,986.8 L1478.7,991.3 L1480.8,995.9 L1482.3,993.8 L1484.7,992.9 L1486.8,994.4 L1488.9,993.2 L1491.3,994.4 L1493.7,997.4 L1493.7,997.4 Z M1532.0,997.4 L1532.0,997.4 L1533.8,995.9 L1539.3,995.9 L1541.1,997.4 L1541.1,997.4 Z M1550.1,997.4 L1550.1,997.4 L1551.9,995.9 L1558.9,995.9 L1560.7,997.4 L1560.7,997.4 Z M1563.7,997.4 L1563.7,997.4 L1566.7,995.6 L1569.1,993.8 L1570.3,994.7 L1586.3,994.7 L1589.3,995.9 L1592.3,994.4 L1594.4,992.6 L1596.2,993.8 L1599.3,991.3 L1602.9,988.9 L1605.9,987.4 L1608.9,988.9 L1611.9,991.3 L1614.9,993.8 L1620.1,994.1 L1620.1,997.4 L1620.1,997.4 Z M1669.8,997.4 L1669.8,997.4 L1673.7,995.9 L1678.2,995.3 L1679.8,994.4 L1681.3,995.3 L1682.8,994.4 L1686.7,994.4 L1688.8,997.4 L1688.8,997.4 Z M1699.3,997.4 L1699.3,997.4 L1700.9,995.9 L1706.9,995.9 L1708.4,997.4 L1708.4,997.4 Z M1709.9,997.4 L1709.9,997.4 L1712.0,992.9 L1714.4,988.9 L1717.4,987.4 L1719.8,988.9 L1722.9,992.9 L1726.5,995.6 L1729.5,997.4 L1729.5,997.4 Z M1732.5,997.4 L1732.5,997.4 L1736.1,995.6 L1740.0,995.3 L1740.0,997.4 L1740.0,997.4 Z M2030.8,997.4 L2030.8,997.4 L2032.7,995.9 L2038.2,995.9 L2040.1,997.4 L2040.1,997.4 Z M2055.5,997.4 L2055.5,997.4 L2057.3,995.9 L2063.3,995.9 L2065.1,997.4 L2065.1,997.4 Z"/>
<line x1="704.0" x2="2135.0" y1="997.38" y2="997.38" stroke="#111" stroke-width="1.0"/>
<path fill="#5cacee" d="M1740.0,1157.2 L1740.0,1157.2 L1740.0,1151.7 L1741.8,1151.7 L1742.1,1157.2 L1779.3,1157.2 L1780.8,1151.7 L1784.5,1151.7 L1785.3,1139.8 L1786.3,1139.1 L1787.8,1139.5 L1789.0,1145.0 L1792.7,1145.3 L1793.1,1157.2 L1793.7,1157.2 L1794.6,1145.3 L1799.1,1145.3 L1799.8,1139.1 L1801.6,1133.1 L1802.8,1136.9 L1803.8,1139.1 L1807.1,1139.1 L1808.3,1142.1 L1809.8,1145.8 L1810.5,1150.2 L1811.2,1145.8 L1812.0,1151.7 L1812.7,1145.8 L1813.3,1139.8 L1814.5,1139.1 L1815.7,1131.7 L1816.9,1121.3 L1818.1,1114.6 L1819.0,1114.6 L1819.9,1120.1 L1822.8,1120.1 L1823.4,1113.9 L1824.3,1108.7 L1825.3,1114.6 L1827.6,1114.6 L1828.8,1104.9 L1829.6,1096.0 L1830.5,1089.8 L1831.1,1097.5 L1831.7,1107.9 L1832.6,1115.3 L1833.5,1122.8 L1834.7,1130.9 L1836.2,1133.9 L1837.2,1143.5 L1838.3,1157.2 L1839.7,1157.2 L1840.9,1152.4 L1842.4,1146.5 L1843.9,1141.3 L1845.1,1136.1 L1846.0,1126.9 L1847.2,1119.8 L1848.3,1109.4 L1849.5,1100.5 L1850.6,1090.1 L1851.6,1077.5 L1853.5,1077.2 L1854.6,1084.2 L1855.5,1089.4 L1857.3,1089.4 L1858.1,1083.4 L1859.9,1083.1 L1860.5,1093.1 L1861.1,1081.2 L1862.0,1072.3 L1862.9,1057.4 L1863.5,1047.1 L1864.7,1051.5 L1866.2,1057.4 L1867.1,1048.5 L1867.9,1041.9 L1868.5,1039.9 L1869.4,1044.4 L1870.3,1040.4 L1871.2,1045.6 L1872.1,1064.9 L1873.0,1073.0 L1874.5,1065.6 L1875.1,1082.7 L1875.8,1096.0 L1876.8,1107.9 L1878.0,1111.6 L1879.2,1115.3 L1880.3,1122.8 L1881.7,1131.7 L1883.2,1139.8 L1884.3,1145.3 L1886.2,1145.8 L1886.9,1157.2 L1893.2,1157.2 L1894.7,1151.7 L1911.4,1151.7 L1912.9,1157.2 L1977.2,1157.2 L1977.5,1151.7 L1980.0,1151.7 L1980.0,1157.2 L1980.0,1157.2 Z M769.9,1157.2 L769.9,1157.2 L769.9,1151.2 L776.3,1151.2 L776.3,1157.2 L776.3,1157.2 Z M779.9,1157.2 L779.9,1157.2 L780.8,1145.1 L784.4,1142.1 L787.4,1137.6 L788.3,1133.1 L789.5,1140.6 L792.0,1146.6 L792.9,1151.2 L797.1,1151.2 L797.1,1157.2 L797.1,1157.2 Z M801.0,1157.2 L801.0,1157.2 L804.0,1151.2 L805.5,1145.1 L809.4,1145.1 L810.9,1151.2 L814.0,1151.2 L816.7,1157.2 L816.7,1157.2 Z M878.8,1157.2 L878.8,1157.2 L880.3,1151.2 L881.8,1145.1 L886.9,1145.1 L887.5,1151.2 L890.5,1151.2 L891.7,1157.2 L891.7,1157.2 Z M1000.9,1157.2 L1000.9,1157.2 L1001.5,1151.2 L1005.4,1151.2 L1006.0,1145.1 L1009.0,1145.1 L1009.9,1151.2 L1014.4,1151.2 L1019.0,1157.2 L1019.0,1157.2 Z M1059.7,1157.2 L1059.7,1157.2 L1059.7,1151.2 L1066.3,1151.2 L1070.2,1157.2 L1070.2,1157.2 Z M1070.2,1157.2 L1070.2,1157.2 L1074.4,1151.2 L1080.5,1151.2 L1081.4,1157.2 L1081.4,1157.2 Z M1091.0,1157.2 L1091.0,1157.2 L1091.6,1151.2 L1099.2,1151.2 L1100.4,1157.2 L1100.4,1157.2 Z M1105.5,1157.2 L1105.5,1157.2 L1105.8,1151.2 L1114.8,1151.2 L1115.1,1157.2 L1115.1,1157.2 Z M1248.6,1157.2 L1248.6,1157.2 L1250.1,1151.2 L1263.7,1151.2 L1267.3,1157.2 L1267.3,1157.2 Z M1335.5,1157.2 L1335.5,1157.2 L1338.5,1151.2 L1340.0,1145.1 L1343.0,1145.1 L1344.2,1151.2 L1348.1,1151.2 L1349.0,1157.2 L1349.0,1157.2 Z M1415.4,1157.2 L1415.4,1157.2 L1418.4,1151.2 L1423.5,1151.2 L1424.1,1157.2 L1424.1,1157.2 Z M1443.7,1157.2 L1443.7,1157.2 L1445.5,1151.2 L1451.5,1151.2 L1453.6,1157.2 L1453.6,1157.2 Z M1454.5,1157.2 L1454.5,1157.2 L1457.6,1145.1 L1459.7,1130.1 L1461.8,1113.5 L1463.6,1107.4 L1465.4,1102.3 L1467.2,1107.4 L1469.0,1115.0 L1470.2,1131.6 L1472.6,1136.1 L1474.7,1145.1 L1476.3,1150.6 L1479.9,1151.2 L1483.8,1157.2 L1483.8,1157.2 Z M1513.9,1157.2 L1513.9,1157.2 L1514.8,1151.2 L1529.9,1151.2 L1530.5,1145.1 L1531.7,1151.2 L1538.1,1151.2 L1538.7,1157.2 L1538.7,1157.2 Z M1539.6,1157.2 L1539.6,1157.2 L1545.0,1151.2 L1551.6,1151.2 L1552.2,1157.2 L1552.2,1157.2 Z M1676.7,1157.2 L1676.7,1157.2 L1678.8,1151.2 L1681.3,1145.1 L1685.8,1145.1 L1686.7,1151.2 L1687.9,1151.2 L1688.2,1157.2 L1688.2,1157.2 Z M1729.5,1157.2 L1729.5,1157.2 L1730.1,1151.2 L1731.9,1151.2 L1733.4,1145.1 L1737.6,1145.1 L1738.5,1149.7 L1740.0,1151.2 L1740.0,1157.2 L1740.0,1157.2 Z M1977.0,1157.2 L1977.0,1157.2 L1977.4,1151.1 L1990.9,1151.1 L1994.6,1157.2 L1994.6,1157.2 Z"/>
<line x1="704.0" x2="2135.0" y1="1157.19" y2="1157.19" stroke="#111" stroke-width="1.0"/>
<path fill="#ff3030" d="M1740.0,1317.0 L1740.0,1316.1 L1745.9,1315.7 L1748.9,1317.0 L1754.8,1317.0 L1756.3,1316.0 L1760.8,1315.7 L1762.6,1314.6 L1763.7,1315.7 L1768.9,1316.0 L1771.2,1317.0 L1772.7,1316.0 L1778.6,1315.7 L1780.8,1317.0 L1782.3,1316.0 L1784.5,1313.4 L1786.3,1309.7 L1787.8,1306.0 L1789.0,1303.8 L1791.2,1303.4 L1793.1,1303.8 L1795.2,1306.0 L1797.1,1305.3 L1799.1,1303.1 L1800.6,1299.0 L1802.0,1298.6 L1803.5,1294.1 L1805.3,1289.0 L1806.5,1283.0 L1807.5,1274.1 L1809.0,1266.7 L1810.1,1263.0 L1812.0,1261.9 L1813.5,1261.5 L1814.5,1263.4 L1816.4,1262.7 L1817.5,1268.2 L1818.7,1265.9 L1819.9,1269.4 L1820.9,1267.4 L1821.9,1269.7 L1823.4,1271.9 L1824.6,1274.1 L1826.8,1275.3 L1828.8,1274.9 L1829.8,1269.4 L1831.3,1267.9 L1832.0,1274.1 L1833.8,1276.3 L1835.0,1280.0 L1836.2,1284.5 L1837.7,1289.0 L1838.7,1297.9 L1839.7,1303.8 L1840.9,1307.5 L1842.4,1311.5 L1843.9,1306.8 L1844.8,1308.2 L1845.7,1305.3 L1847.2,1299.3 L1848.3,1294.1 L1849.5,1290.4 L1850.6,1283.0 L1852.1,1278.6 L1853.5,1272.6 L1855.0,1263.7 L1856.5,1260.0 L1858.0,1256.3 L1859.2,1255.6 L1860.2,1250.4 L1861.4,1237.0 L1862.4,1225.1 L1863.5,1216.2 L1864.7,1210.3 L1866.2,1205.8 L1867.6,1203.6 L1868.5,1204.1 L1869.4,1228.1 L1870.3,1211.8 L1871.2,1205.1 L1872.1,1213.3 L1873.3,1220.7 L1874.5,1228.1 L1875.4,1237.7 L1876.5,1231.1 L1877.4,1227.4 L1878.3,1234.0 L1879.5,1245.9 L1880.7,1256.3 L1881.7,1263.7 L1882.8,1271.1 L1884.0,1275.6 L1885.2,1283.0 L1886.2,1290.4 L1887.2,1296.4 L1888.4,1305.3 L1889.9,1308.2 L1891.4,1312.7 L1893.2,1314.9 L1895.1,1309.7 L1897.3,1310.9 L1901.0,1311.2 L1902.5,1313.4 L1904.0,1316.0 L1907.0,1316.0 L1908.5,1314.2 L1910.7,1313.9 L1912.2,1312.7 L1914.4,1313.0 L1915.9,1311.2 L1917.8,1310.9 L1919.6,1308.2 L1921.4,1310.5 L1923.3,1312.4 L1925.5,1312.7 L1927.8,1314.9 L1930.0,1316.0 L1933.7,1316.0 L1935.9,1314.5 L1942.6,1314.5 L1943.3,1317.0 L1952.2,1317.0 L1953.0,1316.0 L1957.0,1315.7 L1957.9,1312.7 L1960.4,1312.7 L1961.9,1314.2 L1965.3,1314.6 L1966.3,1317.0 L1966.3,1317.0 Z M772.4,1317.0 L772.4,1317.0 L774.2,1315.2 L780.2,1315.2 L782.0,1317.0 L782.0,1317.0 Z M790.4,1317.0 L790.4,1317.0 L792.3,1315.2 L799.8,1315.2 L801.6,1317.0 L801.6,1317.0 Z M811.5,1317.0 L811.5,1317.0 L813.4,1315.2 L818.8,1315.2 L820.6,1317.0 L820.6,1317.0 Z M842.6,1317.0 L842.6,1317.0 L844.7,1315.5 L849.2,1314.0 L852.2,1311.0 L855.3,1312.8 L858.3,1314.6 L860.4,1317.0 L860.4,1317.0 Z M868.8,1317.0 L868.8,1317.0 L873.3,1315.2 L877.3,1314.0 L880.9,1315.2 L884.5,1317.0 L884.5,1317.0 Z M896.0,1317.0 L896.0,1317.0 L900.5,1314.6 L905.0,1312.8 L908.0,1314.3 L911.9,1317.0 L911.9,1317.0 Z M916.5,1317.0 L916.5,1317.0 L918.0,1315.2 L924.6,1315.2 L926.1,1317.0 L926.1,1317.0 Z M952.6,1317.0 L952.6,1317.0 L954.1,1315.2 L959.9,1315.2 L961.4,1317.0 L961.4,1317.0 Z M974.9,1317.0 L974.9,1317.0 L976.8,1315.2 L983.1,1315.2 L984.9,1317.0 L984.9,1317.0 Z M987.9,1317.0 L987.9,1317.0 L990.9,1314.9 L993.9,1314.0 L998.5,1314.6 L1000.6,1317.0 L1000.6,1317.0 Z M1033.7,1317.0 L1033.7,1317.0 L1037.1,1315.2 L1040.1,1314.0 L1043.7,1315.2 L1048.8,1317.0 L1048.8,1317.0 Z M1094.9,1317.0 L1094.9,1317.0 L1096.7,1315.2 L1101.6,1315.2 L1103.4,1317.0 L1103.4,1317.0 Z M1120.6,1317.0 L1120.6,1317.0 L1122.1,1315.2 L1127.2,1315.2 L1128.7,1317.0 L1128.7,1317.0 Z M1178.7,1317.0 L1178.7,1317.0 L1181.8,1314.6 L1184.8,1314.0 L1188.4,1314.6 L1191.4,1317.0 L1191.4,1317.0 Z M1232.1,1317.0 L1232.1,1317.0 L1234.5,1315.5 L1238.7,1315.5 L1241.1,1317.0 L1241.1,1317.0 Z M1246.5,1317.0 L1246.5,1317.0 L1248.6,1314.6 L1252.6,1312.8 L1254.1,1311.0 L1256.2,1313.4 L1259.2,1314.6 L1261.3,1317.0 L1261.3,1317.0 Z M1281.2,1317.0 L1281.2,1317.0 L1284.8,1315.5 L1288.7,1314.6 L1289.9,1312.8 L1291.8,1314.3 L1295.4,1314.0 L1297.8,1315.2 L1301.4,1315.5 L1303.8,1317.0 L1303.8,1317.0 Z M1317.1,1317.0 L1317.1,1317.0 L1319.5,1315.5 L1324.6,1315.5 L1327.0,1317.0 L1327.0,1317.0 Z M1337.0,1317.0 L1337.0,1317.0 L1340.0,1314.6 L1343.0,1312.8 L1345.1,1314.3 L1349.6,1314.6 L1352.6,1314.0 L1356.3,1312.8 L1358.7,1311.3 L1361.1,1313.4 L1364.7,1314.3 L1366.8,1317.0 L1366.8,1317.0 Z M1368.6,1317.0 L1368.6,1317.0 L1372.2,1315.2 L1375.3,1313.1 L1378.3,1312.5 L1382.8,1313.1 L1385.2,1315.2 L1386.7,1317.0 L1386.7,1317.0 Z M1397.0,1317.0 L1397.0,1317.0 L1400.9,1315.5 L1405.4,1314.6 L1409.9,1315.2 L1414.5,1317.0 L1414.5,1317.0 Z M1419.6,1317.0 L1419.6,1317.0 L1421.1,1315.5 L1427.1,1315.5 L1428.6,1317.0 L1428.6,1317.0 Z M1443.7,1317.0 L1443.7,1317.0 L1446.1,1315.5 L1450.3,1315.5 L1452.7,1317.0 L1452.7,1317.0 Z M1462.7,1317.0 L1462.7,1317.0 L1465.7,1315.2 L1468.7,1314.3 L1472.6,1314.6 L1473.8,1317.0 L1473.8,1317.0 Z M1477.8,1317.0 L1477.8,1317.0 L1481.7,1315.5 L1484.7,1314.3 L1487.7,1315.5 L1491.3,1315.2 L1493.7,1317.0 L1493.7,1317.0 Z M1508.8,1317.0 L1508.8,1317.0 L1513.9,1315.5 L1518.5,1314.3 L1522.4,1312.5 L1525.1,1314.3 L1529.0,1314.6 L1533.5,1315.8 L1535.0,1317.0 L1535.0,1317.0 Z M1548.6,1317.0 L1548.6,1317.0 L1550.1,1314.3 L1556.1,1314.3 L1560.7,1315.2 L1566.1,1315.8 L1566.7,1317.0 L1566.7,1317.0 Z M1566.7,1317.0 L1566.7,1317.0 L1568.2,1315.5 L1575.7,1315.5 L1577.3,1317.0 L1577.3,1317.0 Z M1578.8,1317.0 L1578.8,1317.0 L1581.8,1314.0 L1585.4,1312.8 L1588.4,1313.1 L1590.8,1315.2 L1596.8,1315.5 L1598.4,1317.0 L1598.4,1317.0 Z M1602.9,1317.0 L1602.9,1317.0 L1604.7,1315.5 L1611.0,1315.5 L1612.8,1317.0 L1612.8,1317.0 Z M1634.5,1317.0 L1634.5,1317.0 L1636.0,1315.5 L1642.1,1315.5 L1643.6,1317.0 L1643.6,1317.0 Z M1661.1,1317.0 L1661.1,1317.0 L1666.2,1315.8 L1669.8,1315.2 L1671.3,1313.1 L1673.1,1314.6 L1674.6,1314.0 L1676.7,1312.5 L1678.8,1314.6 L1681.3,1313.4 L1684.3,1314.3 L1690.3,1314.6 L1691.2,1315.8 L1702.4,1315.8 L1705.4,1315.2 L1706.9,1316.1 L1714.4,1315.5 L1715.9,1312.8 L1720.5,1312.5 L1722.0,1314.0 L1724.1,1312.8 L1725.9,1314.9 L1729.5,1314.6 L1732.5,1314.0 L1735.5,1315.2 L1740.0,1314.9 L1740.0,1317.0 L1740.0,1317.0 Z M1989.1,1317.0 L1989.1,1317.0 L1990.9,1316.3 L1992.8,1314.8 L1996.5,1309.6 L1998.3,1311.1 L2001.7,1311.1 L2003.9,1314.8 L2007.6,1315.5 L2012.2,1317.0 L2012.2,1317.0 Z M2055.8,1317.0 L2055.8,1317.0 L2057.3,1314.2 L2061.4,1312.4 L2064.2,1311.4 L2064.7,1312.9 L2066.0,1314.2 L2069.8,1317.0 L2069.8,1317.0 Z"/>
<line x1="704.0" x2="2135.0" y1="1317.00" y2="1317.00" stroke="#111" stroke-width="1.0"/>
<path fill="#ff3030" d="M1740.0,1476.8 L1740.0,1474.7 L1741.5,1472.5 L1744.5,1471.3 L1747.1,1471.3 L1748.6,1474.0 L1751.1,1475.8 L1752.6,1476.2 L1754.5,1472.8 L1757.8,1472.5 L1760.0,1468.8 L1762.3,1465.4 L1764.5,1466.3 L1766.7,1466.3 L1768.5,1468.1 L1770.4,1471.8 L1772.7,1474.4 L1774.9,1475.2 L1776.8,1476.5 L1778.9,1474.4 L1782.3,1472.5 L1785.3,1469.5 L1786.8,1465.1 L1789.0,1461.8 L1791.2,1461.4 L1793.1,1458.9 L1794.3,1459.9 L1795.2,1467.3 L1796.7,1463.6 L1798.6,1462.9 L1799.7,1460.6 L1800.6,1456.9 L1801.6,1462.1 L1803.1,1456.2 L1804.1,1454.7 L1805.3,1459.9 L1806.8,1456.9 L1808.3,1451.7 L1810.1,1448.8 L1811.7,1447.6 L1812.7,1452.5 L1813.9,1444.3 L1815.4,1438.7 L1816.9,1439.1 L1817.5,1437.6 L1819.4,1441.3 L1821.3,1443.6 L1823.1,1444.3 L1824.9,1444.3 L1826.1,1447.3 L1827.6,1444.3 L1828.8,1439.9 L1829.5,1437.6 L1830.8,1439.1 L1832.0,1439.6 L1833.5,1442.5 L1835.0,1443.6 L1836.2,1448.8 L1837.2,1454.0 L1838.3,1456.9 L1839.4,1455.4 L1840.9,1459.2 L1842.4,1462.1 L1843.9,1464.8 L1845.4,1465.1 L1846.6,1464.1 L1847.5,1467.3 L1848.6,1463.6 L1849.8,1460.9 L1851.3,1459.2 L1852.5,1456.2 L1853.5,1450.5 L1855.0,1449.5 L1857.3,1448.8 L1858.1,1441.3 L1859.5,1436.2 L1861.0,1432.4 L1862.4,1429.5 L1863.2,1423.5 L1863.9,1411.7 L1865.0,1401.3 L1866.2,1391.6 L1867.6,1387.9 L1869.1,1386.4 L1870.3,1377.5 L1871.4,1367.9 L1872.5,1365.7 L1873.6,1371.6 L1874.8,1380.5 L1875.8,1386.4 L1876.8,1387.9 L1878.0,1387.6 L1878.6,1398.3 L1879.5,1410.2 L1880.7,1422.1 L1881.7,1432.4 L1882.8,1441.3 L1883.7,1448.8 L1884.7,1454.7 L1885.8,1462.1 L1886.6,1468.8 L1887.8,1472.2 L1889.2,1469.5 L1890.6,1468.1 L1892.1,1466.6 L1893.6,1464.4 L1895.1,1461.4 L1897.0,1459.5 L1898.2,1463.6 L1900.3,1465.4 L1902.5,1469.5 L1904.7,1473.7 L1907.0,1473.3 L1910.7,1473.6 L1912.9,1474.7 L1915.1,1475.2 L1917.4,1472.5 L1920.3,1471.3 L1924.0,1471.8 L1927.0,1472.8 L1928.5,1474.4 L1932.2,1474.7 L1933.2,1472.8 L1934.1,1474.7 L1941.1,1474.7 L1942.2,1476.8 L1954.5,1476.8 L1956.0,1475.2 L1962.6,1474.7 L1964.1,1476.8 L1966.3,1476.8 L1967.8,1475.2 L1971.5,1474.7 L1973.3,1473.7 L1974.8,1475.5 L1980.0,1475.2 L1980.0,1476.8 Z M769.9,1476.8 L769.9,1476.8 L770.2,1475.3 L770.8,1475.3 L771.1,1476.8 L771.1,1476.8 Z M779.0,1476.8 L779.0,1476.8 L781.4,1475.3 L785.9,1475.3 L788.3,1476.8 L788.3,1476.8 Z M842.3,1476.8 L842.3,1476.8 L844.7,1473.8 L848.6,1470.8 L852.2,1472.9 L854.4,1475.0 L856.2,1476.8 L856.2,1476.8 Z M862.2,1476.8 L862.2,1476.8 L865.8,1474.7 L874.9,1474.4 L876.4,1472.9 L877.9,1474.1 L883.9,1474.4 L884.5,1476.8 L884.5,1476.8 Z M905.9,1476.8 L905.9,1476.8 L909.5,1474.7 L911.9,1474.1 L914.7,1475.0 L917.7,1476.8 L917.7,1476.8 Z M949.0,1476.8 L949.0,1476.8 L951.4,1475.3 L956.3,1475.3 L958.7,1476.8 L958.7,1476.8 Z M964.7,1476.8 L964.7,1476.8 L966.5,1475.3 L972.5,1475.3 L974.3,1476.8 L974.3,1476.8 Z M987.3,1476.8 L987.3,1476.8 L989.1,1475.3 L995.1,1475.3 L997.0,1476.8 L997.0,1476.8 Z M1006.0,1476.8 L1006.0,1476.8 L1007.8,1475.3 L1013.8,1475.3 L1015.6,1476.8 L1015.6,1476.8 Z M1085.9,1476.8 L1085.9,1476.8 L1088.3,1475.3 L1091.9,1475.3 L1094.3,1476.8 L1094.3,1476.8 Z M1112.1,1476.8 L1112.1,1476.8 L1113.9,1475.3 L1120.3,1475.3 L1122.1,1476.8 L1122.1,1476.8 Z M1164.3,1476.8 L1164.3,1476.8 L1167.3,1475.9 L1170.3,1473.2 L1179.3,1473.2 L1181.5,1474.1 L1183.9,1472.6 L1186.0,1474.4 L1188.4,1475.3 L1190.8,1474.1 L1192.9,1475.0 L1195.9,1474.4 L1200.5,1475.6 L1203.5,1476.8 L1203.5,1476.8 Z M1221.5,1476.8 L1221.5,1476.8 L1223.9,1475.6 L1229.6,1475.6 L1232.1,1476.8 L1232.1,1476.8 Z M1241.7,1476.8 L1241.7,1476.8 L1243.5,1475.6 L1248.3,1475.6 L1250.1,1476.8 L1250.1,1476.8 Z M1285.7,1476.8 L1285.7,1476.8 L1287.5,1475.6 L1293.6,1475.6 L1295.4,1476.8 L1295.4,1476.8 Z M1322.5,1476.8 L1322.5,1476.8 L1324.9,1475.6 L1336.7,1475.6 L1339.1,1476.8 L1339.1,1476.8 Z M1342.1,1476.8 L1342.1,1476.8 L1343.9,1475.6 L1349.9,1475.6 L1351.7,1476.8 L1351.7,1476.8 Z M1382.8,1476.8 L1382.8,1476.8 L1387.3,1475.6 L1391.2,1474.4 L1393.3,1475.6 L1399.4,1475.9 L1400.0,1476.8 L1400.0,1476.8 Z M1421.4,1476.8 L1421.4,1476.8 L1424.4,1474.1 L1428.0,1472.6 L1431.0,1473.8 L1432.5,1475.3 L1437.7,1475.3 L1439.2,1476.8 L1439.2,1476.8 Z M1440.1,1476.8 L1440.1,1476.8 L1443.1,1475.3 L1446.1,1474.4 L1449.1,1475.3 L1452.1,1475.6 L1452.7,1476.8 L1452.7,1476.8 Z M1455.2,1476.8 L1455.2,1476.8 L1459.7,1475.0 L1464.2,1474.1 L1469.6,1474.4 L1471.7,1475.3 L1477.8,1475.3 L1478.7,1476.8 L1478.7,1476.8 Z M1522.1,1476.8 L1522.1,1476.8 L1524.5,1474.1 L1527.5,1472.9 L1529.9,1473.8 L1531.1,1475.3 L1535.0,1475.6 L1535.6,1476.8 L1535.6,1476.8 Z M1536.6,1476.8 L1536.6,1476.8 L1539.6,1474.4 L1545.6,1474.4 L1547.1,1476.8 L1547.1,1476.8 Z M1549.2,1476.8 L1549.2,1476.8 L1551.0,1475.3 L1555.8,1475.3 L1557.7,1476.8 L1557.7,1476.8 Z M1560.7,1476.8 L1560.7,1476.8 L1563.1,1475.6 L1567.3,1475.6 L1569.7,1476.8 L1569.7,1476.8 Z M1580.9,1476.8 L1580.9,1476.8 L1582.7,1474.4 L1589.3,1474.4 L1590.2,1476.8 L1590.2,1476.8 Z M1592.9,1476.8 L1592.9,1476.8 L1595.3,1475.3 L1602.3,1475.3 L1605.9,1474.1 L1608.9,1475.0 L1611.9,1476.8 L1611.9,1476.8 Z M1630.6,1476.8 L1630.6,1476.8 L1634.5,1473.8 L1637.5,1472.9 L1640.6,1473.8 L1643.6,1475.3 L1648.1,1476.8 L1648.1,1476.8 Z M1652.6,1476.8 L1652.6,1476.8 L1655.6,1474.7 L1660.2,1473.8 L1663.2,1472.0 L1665.6,1471.4 L1667.7,1469.6 L1669.8,1471.7 L1672.2,1472.3 L1675.2,1472.9 L1678.2,1472.6 L1681.3,1470.8 L1683.7,1469.6 L1685.8,1471.1 L1688.2,1470.8 L1689.7,1475.0 L1699.3,1475.6 L1702.4,1476.8 L1702.4,1476.8 Z M1703.9,1476.8 L1703.9,1476.8 L1706.9,1475.0 L1709.9,1473.8 L1712.9,1471.4 L1715.9,1472.6 L1718.9,1473.8 L1721.1,1475.3 L1729.5,1475.6 L1732.5,1474.7 L1735.5,1475.6 L1740.0,1475.3 L1740.0,1476.8 L1740.0,1476.8 Z M1978.8,1476.8 L1978.8,1476.8 L1980.1,1475.3 L1986.3,1475.5 L1988.1,1476.8 L1988.1,1476.8 Z M1995.5,1476.8 L1995.5,1476.8 L1997.8,1475.5 L2002.6,1475.5 L2004.8,1476.8 L2004.8,1476.8 Z M2021.5,1476.8 L2021.5,1476.8 L2025.2,1475.5 L2028.0,1474.4 L2029.9,1475.3 L2031.7,1476.8 L2031.7,1476.8 Z M2038.2,1476.8 L2038.2,1476.8 L2041.0,1475.5 L2044.7,1475.5 L2047.5,1476.8 L2047.5,1476.8 Z"/>
<line x1="704.0" x2="2135.0" y1="1476.82" y2="1476.82" stroke="#111" stroke-width="1.0"/>
<path fill="#b23aee" d="M1778.9,1636.6 L1778.9,1636.6 L1780.4,1629.1 L1783.8,1628.3 L1785.3,1626.1 L1787.2,1623.9 L1788.7,1626.8 L1790.5,1628.3 L1792.2,1628.3 L1793.1,1623.9 L1794.3,1625.4 L1795.2,1627.6 L1796.1,1619.4 L1799.7,1619.1 L1800.6,1613.5 L1801.6,1606.1 L1803.1,1603.1 L1803.8,1592.7 L1805.3,1597.2 L1806.8,1600.9 L1808.6,1601.6 L1809.5,1613.5 L1810.9,1615.0 L1811.7,1617.2 L1812.4,1626.8 L1813.5,1623.9 L1819.4,1623.6 L1820.9,1621.6 L1822.8,1618.7 L1824.9,1615.0 L1826.1,1609.0 L1827.6,1603.1 L1828.8,1597.2 L1829.9,1594.2 L1830.8,1586.8 L1832.0,1579.3 L1833.5,1571.2 L1835.0,1576.4 L1836.5,1579.6 L1837.4,1585.3 L1838.3,1589.0 L1839.1,1600.1 L1840.2,1614.2 L1841.7,1620.9 L1843.2,1626.8 L1844.2,1629.8 L1845.4,1635.0 L1847.6,1635.0 L1848.6,1628.3 L1849.8,1620.2 L1851.3,1613.5 L1852.5,1603.1 L1853.5,1598.6 L1854.6,1591.2 L1856.1,1589.0 L1857.6,1588.2 L1858.7,1593.4 L1859.9,1583.8 L1861.0,1576.4 L1862.0,1573.4 L1862.9,1571.2 L1863.5,1557.1 L1864.4,1536.3 L1865.3,1517.7 L1867.3,1517.0 L1868.5,1513.3 L1869.1,1517.0 L1870.3,1506.6 L1871.2,1500.7 L1871.8,1509.6 L1872.4,1524.4 L1873.0,1539.3 L1873.9,1552.6 L1875.4,1554.9 L1876.5,1557.1 L1877.7,1567.5 L1878.9,1577.9 L1879.8,1588.2 L1880.7,1591.2 L1882.2,1584.5 L1883.1,1592.7 L1884.0,1592.7 L1884.9,1603.1 L1886.2,1613.5 L1887.2,1622.4 L1888.4,1626.8 L1889.2,1623.9 L1890.2,1632.5 L1895.1,1632.5 L1896.1,1630.5 L1897.0,1628.3 L1898.1,1630.5 L1898.8,1632.8 L1901.0,1632.8 L1902.5,1629.1 L1904.7,1624.6 L1907.0,1620.2 L1909.5,1615.0 L1911.4,1618.7 L1912.5,1620.2 L1914.0,1625.4 L1915.9,1632.0 L1924.8,1632.5 L1925.5,1636.6 L1926.1,1636.6 L1926.4,1628.3 L1931.8,1628.3 L1932.7,1625.4 L1933.4,1623.1 L1934.4,1628.3 L1935.0,1632.5 L1940.4,1632.5 L1941.1,1636.6 L1967.1,1636.6 L1967.8,1632.8 L1970.8,1632.5 L1971.8,1628.3 L1973.8,1628.3 L1976.0,1632.0 L1980.0,1632.8 L1980.0,1636.6 Z M769.0,1636.6 L769.0,1636.6 L769.0,1632.7 L773.9,1632.7 L773.9,1636.6 L773.9,1636.6 Z M782.0,1636.6 L782.0,1636.6 L783.8,1624.0 L787.4,1620.1 L789.5,1619.1 L792.0,1623.1 L793.5,1632.7 L795.9,1632.7 L796.5,1636.6 L796.5,1636.6 Z M798.9,1636.6 L798.9,1636.6 L802.5,1630.0 L804.9,1628.5 L807.9,1628.5 L808.5,1632.7 L812.1,1632.7 L813.1,1636.6 L813.1,1636.6 Z M858.9,1636.6 L858.9,1636.6 L860.7,1632.7 L863.7,1632.7 L866.4,1628.2 L868.8,1632.7 L872.4,1632.7 L874.0,1636.6 L874.0,1636.6 Z M892.9,1636.6 L892.9,1636.6 L894.5,1632.7 L910.4,1632.7 L911.6,1636.6 L911.6,1636.6 Z M921.6,1636.6 L921.6,1636.6 L923.1,1632.7 L929.7,1632.7 L931.5,1636.6 L931.5,1636.6 Z M935.2,1636.6 L935.2,1636.6 L936.1,1632.7 L959.3,1632.7 L961.7,1636.6 L961.7,1636.6 Z M963.8,1636.6 L963.8,1636.6 L966.8,1632.7 L969.8,1628.5 L971.9,1624.0 L972.5,1620.1 L973.7,1624.0 L974.9,1624.0 L976.2,1619.5 L977.4,1624.0 L979.8,1624.0 L981.0,1632.7 L993.9,1632.7 L994.8,1636.6 L994.8,1636.6 Z M1036.1,1636.6 L1036.1,1636.6 L1037.7,1632.7 L1044.6,1632.7 L1045.8,1628.5 L1047.0,1632.7 L1051.8,1632.7 L1053.3,1628.5 L1054.8,1632.7 L1059.7,1632.7 L1060.9,1636.6 L1060.9,1636.6 Z M1082.9,1636.6 L1082.9,1636.6 L1084.4,1632.7 L1090.4,1632.7 L1092.8,1636.6 L1092.8,1636.6 Z M1149.8,1636.6 L1149.8,1636.6 L1151.0,1632.7 L1154.6,1632.7 L1155.5,1628.2 L1158.8,1628.2 L1159.8,1632.7 L1161.9,1632.7 L1164.3,1636.6 L1164.3,1636.6 Z M1453.6,1636.6 L1453.6,1636.6 L1454.5,1632.7 L1462.7,1632.7 L1463.6,1636.6 L1463.6,1636.6 Z M1483.8,1636.6 L1483.8,1636.6 L1484.7,1632.7 L1492.8,1636.6 L1492.8,1636.6 Z M1631.5,1636.6 L1631.5,1636.6 L1633.6,1632.7 L1636.9,1632.7 L1637.8,1628.2 L1641.5,1628.2 L1642.7,1632.7 L1645.7,1632.7 L1646.6,1636.6 L1646.6,1636.6 Z M1662.6,1636.6 L1662.6,1636.6 L1664.7,1632.7 L1666.2,1628.5 L1669.2,1623.1 L1672.2,1628.5 L1675.2,1628.5 L1676.7,1632.7 L1682.2,1632.7 L1683.4,1628.2 L1690.3,1628.2 L1691.8,1632.7 L1693.3,1636.6 L1693.3,1636.6 Z M1701.8,1636.6 L1701.8,1636.6 L1703.3,1632.7 L1706.3,1632.7 L1707.5,1628.2 L1709.9,1628.2 L1711.4,1632.7 L1715.3,1632.7 L1716.5,1636.6 L1716.5,1636.6 Z M1979.1,1636.6 L1979.1,1636.6 L1979.1,1632.6 L1980.0,1632.6 L1980.9,1636.6 L1980.9,1636.6 Z M1984.9,1636.6 L1984.9,1636.6 L1985.6,1632.6 L1993.6,1632.6 L1994.4,1636.6 L1994.4,1636.6 Z M2001.4,1636.6 L2001.4,1636.6 L2002.6,1632.6 L2009.6,1632.6 L2011.3,1636.6 L2011.3,1636.6 Z"/>
<line x1="704.0" x2="2135.0" y1="1636.63" y2="1636.63" stroke="#111" stroke-width="1.0"/>
<path fill="#b23aee" d="M1740.0,1796.5 L1740.0,1796.5 L1740.0,1785.8 L1745.2,1785.8 L1746.2,1791.0 L1747.4,1791.4 L1748.3,1796.5 L1757.1,1796.5 L1759.3,1793.9 L1762.3,1791.4 L1764.5,1791.3 L1766.7,1783.5 L1768.9,1778.3 L1771.5,1774.6 L1774.4,1774.6 L1775.3,1779.8 L1776.8,1776.1 L1778.3,1769.0 L1779.8,1774.6 L1783.3,1774.6 L1785.3,1771.7 L1786.8,1769.1 L1788.2,1769.0 L1789.3,1763.5 L1792.7,1763.5 L1793.4,1769.1 L1795.7,1769.4 L1796.7,1776.1 L1798.2,1779.8 L1799.7,1779.8 L1801.2,1774.6 L1805.3,1774.6 L1806.5,1785.0 L1807.5,1770.2 L1808.6,1763.9 L1809.8,1767.2 L1810.6,1769.4 L1811.5,1757.6 L1812.4,1761.3 L1813.6,1758.3 L1814.8,1761.3 L1815.7,1763.5 L1816.9,1763.5 L1817.5,1768.7 L1818.4,1750.9 L1819.4,1747.9 L1820.1,1750.1 L1821.0,1743.5 L1822.4,1735.3 L1824.3,1734.9 L1825.3,1724.5 L1829.8,1724.5 L1830.5,1734.6 L1831.7,1740.5 L1832.8,1747.9 L1833.8,1756.8 L1835.0,1767.2 L1836.2,1779.1 L1837.7,1785.0 L1839.1,1791.0 L1840.6,1796.5 L1846.6,1796.5 L1847.6,1788.0 L1849.1,1779.1 L1850.6,1770.2 L1852.1,1758.3 L1853.5,1755.3 L1855.5,1753.1 L1856.5,1762.8 L1857.3,1768.7 L1858.1,1763.5 L1859.5,1761.3 L1861.4,1758.0 L1862.9,1757.6 L1863.5,1743.5 L1864.1,1719.7 L1865.0,1698.9 L1865.9,1684.1 L1866.9,1669.3 L1867.6,1662.6 L1868.8,1667.8 L1869.7,1666.3 L1870.6,1658.9 L1871.5,1651.7 L1872.1,1666.3 L1872.8,1684.1 L1873.6,1701.9 L1874.3,1718.2 L1875.4,1726.4 L1876.3,1734.6 L1877.3,1742.0 L1878.3,1750.9 L1879.2,1762.8 L1880.1,1773.1 L1881.0,1768.7 L1882.2,1763.5 L1883.4,1763.9 L1884.7,1769.4 L1886.2,1777.6 L1887.2,1780.6 L1888.4,1769.4 L1889.2,1770.2 L1890.2,1785.8 L1893.6,1785.8 L1895.1,1774.6 L1896.1,1780.6 L1897.0,1785.0 L1898.5,1779.8 L1900.3,1779.8 L1901.5,1774.3 L1902.5,1779.1 L1903.3,1774.6 L1904.5,1779.1 L1905.3,1774.9 L1906.2,1779.8 L1909.5,1780.1 L1910.7,1786.5 L1912.2,1791.0 L1913.4,1796.5 L1915.1,1796.5 L1915.9,1791.4 L1920.8,1791.3 L1921.7,1785.8 L1928.5,1785.8 L1930.0,1791.3 L1932.7,1791.3 L1934.4,1788.0 L1935.9,1785.8 L1937.1,1785.5 L1938.1,1780.3 L1941.1,1780.1 L1942.6,1783.5 L1944.1,1788.0 L1945.6,1792.4 L1947.1,1796.5 L1950.0,1796.5 L1953.0,1791.4 L1958.9,1791.4 L1961.9,1796.5 L1965.9,1796.5 L1966.3,1791.4 L1973.3,1791.4 L1976.0,1796.5 L1976.0,1796.5 Z M911.9,1796.5 L911.9,1796.5 L914.0,1791.6 L921.6,1791.6 L924.0,1796.5 L924.0,1796.5 Z M932.1,1796.5 L932.1,1796.5 L934.5,1791.6 L940.6,1791.6 L943.3,1796.5 L943.3,1796.5 Z M967.4,1796.5 L967.4,1796.5 L968.9,1791.0 L971.3,1785.6 L975.9,1785.6 L978.0,1791.0 L979.2,1791.0 L979.8,1796.5 L979.8,1796.5 Z M998.5,1796.5 L998.5,1796.5 L1000.0,1791.0 L1003.0,1785.6 L1008.1,1785.6 L1010.5,1791.0 L1012.0,1796.5 L1012.0,1796.5 Z M1104.0,1796.5 L1104.0,1796.5 L1106.1,1791.0 L1107.0,1780.8 L1108.8,1779.9 L1110.9,1774.4 L1113.6,1779.9 L1115.4,1785.6 L1117.5,1785.6 L1118.5,1791.0 L1120.6,1791.0 L1123.6,1796.5 L1123.6,1796.5 Z M1128.7,1796.5 L1128.7,1796.5 L1129.9,1791.3 L1137.7,1791.3 L1140.2,1796.5 L1140.2,1796.5 Z M1141.1,1796.5 L1141.1,1796.5 L1141.7,1791.3 L1150.7,1791.3 L1151.6,1796.5 L1151.6,1796.5 Z M1164.3,1796.5 L1164.3,1796.5 L1167.9,1791.3 L1171.8,1791.3 L1172.4,1796.5 L1172.4,1796.5 Z M1263.1,1796.5 L1263.1,1796.5 L1263.4,1791.3 L1271.6,1791.3 L1271.9,1796.5 L1271.9,1796.5 Z M1281.8,1796.5 L1281.8,1796.5 L1282.4,1780.8 L1283.9,1779.9 L1285.7,1772.3 L1287.5,1768.7 L1289.3,1773.8 L1291.1,1780.8 L1292.4,1785.9 L1293.9,1791.0 L1296.9,1796.5 L1296.9,1796.5 Z M1335.2,1796.5 L1335.2,1796.5 L1338.2,1791.3 L1344.2,1791.3 L1345.4,1785.6 L1351.1,1785.6 L1352.0,1791.3 L1353.9,1785.6 L1354.8,1791.3 L1359.0,1791.3 L1359.6,1785.6 L1360.5,1791.3 L1364.7,1791.3 L1365.9,1785.6 L1367.7,1785.6 L1368.9,1791.3 L1373.8,1791.3 L1374.4,1796.5 L1374.4,1796.5 Z M1467.8,1796.5 L1467.8,1796.5 L1468.1,1791.3 L1485.0,1791.3 L1485.3,1796.5 L1485.3,1796.5 Z M1487.7,1796.5 L1487.7,1796.5 L1489.8,1791.3 L1491.3,1785.6 L1495.6,1785.6 L1496.8,1791.3 L1516.4,1791.3 L1519.1,1796.5 L1519.1,1796.5 Z M1525.4,1796.5 L1525.4,1796.5 L1526.9,1791.3 L1529.6,1791.3 L1530.5,1785.6 L1534.1,1785.6 L1535.3,1791.3 L1537.5,1791.3 L1539.0,1796.5 L1539.0,1796.5 Z M1628.5,1796.5 L1628.5,1796.5 L1630.6,1791.3 L1633.6,1785.6 L1637.2,1780.8 L1639.7,1785.6 L1642.1,1785.6 L1643.0,1791.3 L1645.7,1791.3 L1646.6,1796.5 L1646.6,1796.5 Z M1652.9,1796.5 L1652.9,1796.5 L1653.5,1791.3 L1660.8,1791.3 L1662.0,1796.5 L1662.0,1796.5 Z M1665.6,1796.5 L1665.6,1796.5 L1669.2,1791.3 L1670.4,1780.8 L1672.8,1779.9 L1675.2,1774.7 L1677.0,1780.8 L1678.2,1785.6 L1681.3,1779.9 L1682.5,1774.7 L1683.7,1780.8 L1685.5,1779.9 L1686.7,1774.4 L1688.2,1774.7 L1689.1,1780.8 L1690.3,1785.6 L1691.8,1785.6 L1692.7,1791.3 L1694.8,1791.3 L1696.3,1796.5 L1696.3,1796.5 Z M1735.5,1796.5 L1735.5,1796.5 L1738.5,1791.3 L1740.0,1785.9 L1740.0,1796.5 L1740.0,1796.5 Z M1980.9,1796.5 L1980.9,1796.5 L1984.9,1785.7 L1988.7,1785.7 L1992.2,1796.5 L1992.2,1796.5 Z"/>
<line x1="704.0" x2="2135.0" y1="1796.45" y2="1796.45" stroke="#111" stroke-width="1.0"/>
<text transform="translate(432.00,138.51) scale(1.0,0.945)" font-size="36.67" fill="#1a1a1a" text-anchor="middle">WT Lef1+ Papillary</text>
<text transform="translate(432.00,298.32) scale(1.0,0.945)" font-size="36.67" fill="#1a1a1a" text-anchor="middle">WT Dpp4+ Papillary</text>
<text transform="translate(432.00,458.14) scale(1.0,0.945)" font-size="36.67" fill="#1a1a1a" text-anchor="middle">cKO Dpp4+ Papillary</text>
<text transform="translate(432.00,617.95) scale(1.0,0.945)" font-size="36.67" fill="#1a1a1a" text-anchor="middle">WT Tagln+ Papillary</text>
<text transform="translate(432.00,777.77) scale(1.0,0.945)" font-size="36.67" fill="#1a1a1a" text-anchor="middle">cKO Tagln+ Papillary</text>
<text transform="translate(432.00,937.58) scale(1.0,0.945)" font-size="36.67" fill="#1a1a1a" text-anchor="middle">WT Inhba+ Dermal Papilla</text>
<text transform="translate(432.00,1097.40) scale(1.0,0.945)" font-size="36.67" fill="#1a1a1a" text-anchor="middle">cKO Inhba+ Dermal Papilla</text>
<text transform="translate(432.00,1257.21) scale(1.0,0.945)" font-size="36.67" fill="#1a1a1a" text-anchor="middle">WT Dlk1+ Reticular</text>
<text transform="translate(432.00,1417.03) scale(1.0,0.945)" font-size="36.67" fill="#1a1a1a" text-anchor="middle">cKO Dlk1+ Reticular</text>
<text transform="translate(432.00,1576.84) scale(1.0,0.945)" font-size="36.67" fill="#1a1a1a" text-anchor="middle">WT Fabp4+ Pre-Adipocytes</text>
<text transform="translate(432.00,1736.66) scale(1.0,0.945)" font-size="36.67" fill="#1a1a1a" text-anchor="middle">cKO Fabp4+ Pre-Adipocytes</text>
<line x1="160" x2="160" y1="45.7" y2="1803.665" stroke="#000" stroke-width="4.45"/>
<line x1="148.4" x2="159.8" y1="198.30" y2="198.30" stroke="#333" stroke-width="4.8"/>
<line x1="148.4" x2="159.8" y1="159.04" y2="159.04" stroke="#333" stroke-width="4.8"/>
<line x1="148.4" x2="159.8" y1="119.78" y2="119.78" stroke="#333" stroke-width="4.8"/>
<line x1="148.4" x2="159.8" y1="80.52" y2="80.52" stroke="#333" stroke-width="4.8"/>
<line x1="148.4" x2="159.8" y1="358.12" y2="358.12" stroke="#333" stroke-width="4.8"/>
<line x1="148.4" x2="159.8" y1="318.86" y2="318.86" stroke="#333" stroke-width="4.8"/>
<line x1="148.4" x2="159.8" y1="279.60" y2="279.60" stroke="#333" stroke-width="4.8"/>
<line x1="148.4" x2="159.8" y1="240.34" y2="240.34" stroke="#333" stroke-width="4.8"/>
<line x1="148.4" x2="159.8" y1="517.93" y2="517.93" stroke="#333" stroke-width="4.8"/>
<line x1="148.4" x2="159.8" y1="478.67" y2="478.67" stroke="#333" stroke-width="4.8"/>
<line x1="148.4" x2="159.8" y1="439.41" y2="439.41" stroke="#333" stroke-width="4.8"/>
<line x1="148.4" x2="159.8" y1="400.15" y2="400.15" stroke="#333" stroke-width="4.8"/>
<line x1="148.4" x2="159.8" y1="677.75" y2="677.75" stroke="#333" stroke-width="4.8"/>
<line x1="148.4" x2="159.8" y1="638.49" y2="638.49" stroke="#333" stroke-width="4.8"/>
<line x1="148.4" x2="159.8" y1="599.23" y2="599.23" stroke="#333" stroke-width="4.8"/>
<line x1="148.4" x2="159.8" y1="559.97" y2="559.97" stroke="#333" stroke-width="4.8"/>
<line x1="148.4" x2="159.8" y1="837.56" y2="837.56" stroke="#333" stroke-width="4.8"/>
<line x1="148.4" x2="159.8" y1="798.30" y2="798.30" stroke="#333" stroke-width="4.8"/>
<line x1="148.4" x2="159.8" y1="759.04" y2="759.04" stroke="#333" stroke-width="4.8"/>
<line x1="148.4" x2="159.8" y1="719.78" y2="719.78" stroke="#333" stroke-width="4.8"/>
<line x1="148.4" x2="159.8" y1="997.38" y2="997.38" stroke="#333" stroke-width="4.8"/>
<line x1="148.4" x2="159.8" y1="958.12" y2="958.12" stroke="#333" stroke-width="4.8"/>
<line x1="148.4" x2="159.8" y1="918.86" y2="918.86" stroke="#333" stroke-width="4.8"/>
<line x1="148.4" x2="159.8" y1="879.60" y2="879.60" stroke="#333" stroke-width="4.8"/>
<line x1="148.4" x2="159.8" y1="1157.19" y2="1157.19" stroke="#333" stroke-width="4.8"/>
<line x1="148.4" x2="159.8" y1="1117.93" y2="1117.93" stroke="#333" stroke-width="4.8"/>
<line x1="148.4" x2="159.8" y1="1078.67" y2="1078.67" stroke="#333" stroke-width="4.8"/>
<line x1="148.4" x2="159.8" y1="1039.41" y2="1039.41" stroke="#333" stroke-width="4.8"/>
<line x1="148.4" x2="159.8" y1="1317.00" y2="1317.00" stroke="#333" stroke-width="4.8"/>
<line x1="148.4" x2="159.8" y1="1277.74" y2="1277.74" stroke="#333" stroke-width="4.8"/>
<line x1="148.4" x2="159.8" y1="1238.48" y2="1238.48" stroke="#333" stroke-width="4.8"/>
<line x1="148.4" x2="159.8" y1="1199.22" y2="1199.22" stroke="#333" stroke-width="4.8"/>
<line x1="148.4" x2="159.8" y1="1476.82" y2="1476.82" stroke="#333" stroke-width="4.8"/>
<line x1="148.4" x2="159.8" y1="1437.56" y2="1437.56" stroke="#333" stroke-width="4.8"/>
<line x1="148.4" x2="159.8" y1="1398.30" y2="1398.30" stroke="#333" stroke-width="4.8"/>
<line x1="148.4" x2="159.8" y1="1359.04" y2="1359.04" stroke="#333" stroke-width="4.8"/>
<line x1="148.4" x2="159.8" y1="1636.63" y2="1636.63" stroke="#333" stroke-width="4.8"/>
<line x1="148.4" x2="159.8" y1="1597.38" y2="1597.38" stroke="#333" stroke-width="4.8"/>
<line x1="148.4" x2="159.8" y1="1558.12" y2="1558.12" stroke="#333" stroke-width="4.8"/>
<line x1="148.4" x2="159.8" y1="1518.86" y2="1518.86" stroke="#333" stroke-width="4.8"/>
<line x1="148.4" x2="159.8" y1="1796.45" y2="1796.45" stroke="#333" stroke-width="4.8"/>
<line x1="148.4" x2="159.8" y1="1757.19" y2="1757.19" stroke="#333" stroke-width="4.8"/>
<line x1="148.4" x2="159.8" y1="1717.93" y2="1717.93" stroke="#333" stroke-width="4.8"/>
<line x1="148.4" x2="159.8" y1="1678.67" y2="1678.67" stroke="#333" stroke-width="4.8"/>
<text transform="translate(79.10,932.00) rotate(-90) scale(1.0,0.968)" font-size="45.83" fill="#000" text-anchor="middle">Normalized signal</text>
<text transform="translate(127.90,924.80) rotate(-90) scale(1.0,0.968)" font-size="45.83" fill="#000" text-anchor="middle">(range 0 - 37)</text>
<line x1="160" x2="160" y1="1861.0" y2="2036.7" stroke="#000" stroke-width="4.45"/>
<rect x="1771" y="1940" width="142.9" height="17.4" fill="#696969"/>
<line x1="704.0" x2="2135.0" y1="2036.7" y2="2036.7" stroke="#000" stroke-width="4.45"/>
<line x1="775.4" x2="775.4" y1="2036.7" y2="2048.16" stroke="#333" stroke-width="4.45"/>
<text transform="translate(775.40,2082.80) scale(1.0,0.915)" font-size="36.67" fill="#4d4d4d" text-anchor="middle">35044000</text>
<line x1="1120.4" x2="1120.4" y1="2036.7" y2="2048.16" stroke="#333" stroke-width="4.45"/>
<text transform="translate(1120.40,2082.80) scale(1.0,0.915)" font-size="36.67" fill="#4d4d4d" text-anchor="middle">35048000</text>
<line x1="1465.4" x2="1465.4" y1="2036.7" y2="2048.16" stroke="#333" stroke-width="4.45"/>
<text transform="translate(1465.40,2082.80) scale(1.0,0.915)" font-size="36.67" fill="#4d4d4d" text-anchor="middle">35052000</text>
<line x1="1810.4" x2="1810.4" y1="2036.7" y2="2048.16" stroke="#333" stroke-width="4.45"/>
<text transform="translate(1810.40,2082.80) scale(1.0,0.915)" font-size="36.67" fill="#4d4d4d" text-anchor="middle">35056000</text>
<text transform="translate(79.30,1948.80) rotate(-90) scale(1.0,0.968)" font-size="45.83" fill="#000" text-anchor="middle">Peaks</text>
<line x1="160" x2="160" y1="2136.5" y2="2335.0" stroke="#000" stroke-width="4.45"/>
<path d="M1842.8,2145.5 Q1848.5,2506.3 1854.2,2145.5" fill="none" stroke="#5933ff" stroke-width="4.45"/>
<line x1="704.0" x2="2135.0" y1="2145.5" y2="2145.5" stroke="#bebebe" stroke-width="4.45"/>
<text transform="translate(2202.80,2181.00) scale(1.0,0.975)" font-size="45.83" fill="#000" text-anchor="start">score</text>
<rect x="2203.3" y="2209.2" width="23.6" height="117.3" fill="url(#gb)"/>
<line x1="2203.3" x2="2208.0" y1="2209.2" y2="2209.2" stroke="#fff" stroke-width="1.6"/>
<line x1="2222.2000000000003" x2="2226.9" y1="2209.2" y2="2209.2" stroke="#fff" stroke-width="1.6"/>
<text transform="translate(2250.30,2221.90) scale(0.985,0.915)" font-size="36.67" fill="#000" text-anchor="start">1.00</text>
<line x1="2203.3" x2="2208.0" y1="2238.5" y2="2238.5" stroke="#fff" stroke-width="1.6"/>
<line x1="2222.2000000000003" x2="2226.9" y1="2238.5" y2="2238.5" stroke="#fff" stroke-width="1.6"/>
<text transform="translate(2250.30,2251.22) scale(0.985,0.915)" font-size="36.67" fill="#000" text-anchor="start">0.75</text>
<line x1="2203.3" x2="2208.0" y1="2267.8" y2="2267.8" stroke="#fff" stroke-width="1.6"/>
<line x1="2222.2000000000003" x2="2226.9" y1="2267.8" y2="2267.8" stroke="#fff" stroke-width="1.6"/>
<text transform="translate(2250.30,2280.55) scale(0.985,0.915)" font-size="36.67" fill="#000" text-anchor="start">0.50</text>
<line x1="2203.3" x2="2208.0" y1="2297.2" y2="2297.2" stroke="#fff" stroke-width="1.6"/>
<line x1="2222.2000000000003" x2="2226.9" y1="2297.2" y2="2297.2" stroke="#fff" stroke-width="1.6"/>
<text transform="translate(2250.30,2309.88) scale(0.985,0.915)" font-size="36.67" fill="#000" text-anchor="start">0.25</text>
<line x1="2203.3" x2="2208.0" y1="2326.5" y2="2326.5" stroke="#fff" stroke-width="1.6"/>
<line x1="2222.2000000000003" x2="2226.9" y1="2326.5" y2="2326.5" stroke="#fff" stroke-width="1.6"/>
<text transform="translate(2250.30,2339.20) scale(0.985,0.915)" font-size="36.67" fill="#000" text-anchor="start">0.00</text>
<text transform="translate(79.30,2235.70) rotate(-90) scale(1.0,0.968)" font-size="45.83" fill="#000" text-anchor="middle">WT Links</text>
<line x1="160" x2="160" y1="2392.4" y2="2590.9" stroke="#000" stroke-width="4.45"/>
<path d="M1842.8,2401.4 Q1848.5,2762.2 1854.2,2401.4" fill="none" stroke="#ff5a38" stroke-width="4.45"/>
<line x1="704.0" x2="2135.0" y1="2401.4" y2="2401.4" stroke="#bebebe" stroke-width="4.45"/>
<text transform="translate(2202.80,2436.90) scale(1.0,0.975)" font-size="45.83" fill="#000" text-anchor="start">score</text>
<rect x="2203.3" y="2465.1" width="23.6" height="117.3" fill="url(#gr)"/>
<line x1="2203.3" x2="2208.0" y1="2465.1" y2="2465.1" stroke="#fff" stroke-width="1.6"/>
<line x1="2222.2000000000003" x2="2226.9" y1="2465.1" y2="2465.1" stroke="#fff" stroke-width="1.6"/>
<text transform="translate(2250.30,2477.80) scale(0.985,0.915)" font-size="36.67" fill="#000" text-anchor="start">1.00</text>
<line x1="2203.3" x2="2208.0" y1="2494.4" y2="2494.4" stroke="#fff" stroke-width="1.6"/>
<line x1="2222.2000000000003" x2="2226.9" y1="2494.4" y2="2494.4" stroke="#fff" stroke-width="1.6"/>
<text transform="translate(2250.30,2507.12) scale(0.985,0.915)" font-size="36.67" fill="#000" text-anchor="start">0.75</text>
<line x1="2203.3" x2="2208.0" y1="2523.8" y2="2523.8" stroke="#fff" stroke-width="1.6"/>
<line x1="2222.2000000000003" x2="2226.9" y1="2523.8" y2="2523.8" stroke="#fff" stroke-width="1.6"/>
<text transform="translate(2250.30,2536.45) scale(0.985,0.915)" font-size="36.67" fill="#000" text-anchor="start">0.50</text>
<line x1="2203.3" x2="2208.0" y1="2553.1" y2="2553.1" stroke="#fff" stroke-width="1.6"/>
<line x1="2222.2000000000003" x2="2226.9" y1="2553.1" y2="2553.1" stroke="#fff" stroke-width="1.6"/>
<text transform="translate(2250.30,2565.77) scale(0.985,0.915)" font-size="36.67" fill="#000" text-anchor="start">0.25</text>
<line x1="2203.3" x2="2208.0" y1="2582.4" y2="2582.4" stroke="#fff" stroke-width="1.6"/>
<line x1="2222.2000000000003" x2="2226.9" y1="2582.4" y2="2582.4" stroke="#fff" stroke-width="1.6"/>
<text transform="translate(2250.30,2595.10) scale(0.985,0.915)" font-size="36.67" fill="#000" text-anchor="start">0.00</text>
<text transform="translate(79.30,2491.60) rotate(-90) scale(1.0,0.968)" font-size="45.83" fill="#000" text-anchor="middle">KO Links</text>
<line x1="160" x2="160" y1="2648.7" y2="2847.3" stroke="#000" stroke-width="4.45"/>
<line x1="704.0" x2="2135.0" y1="2847.3" y2="2847.3" stroke="#000" stroke-width="4.45"/>
<line x1="775.4" x2="775.4" y1="2847.3" y2="2858.76" stroke="#333" stroke-width="4.45"/>
<text transform="translate(775.40,2893.40) scale(1.0,0.915)" font-size="36.67" fill="#4d4d4d" text-anchor="middle">35044000</text>
<line x1="1120.4" x2="1120.4" y1="2847.3" y2="2858.76" stroke="#333" stroke-width="4.45"/>
<text transform="translate(1120.40,2893.40) scale(1.0,0.915)" font-size="36.67" fill="#4d4d4d" text-anchor="middle">35048000</text>
<line x1="1465.4" x2="1465.4" y1="2847.3" y2="2858.76" stroke="#333" stroke-width="4.45"/>
<text transform="translate(1465.40,2893.40) scale(1.0,0.915)" font-size="36.67" fill="#4d4d4d" text-anchor="middle">35052000</text>
<line x1="1810.4" x2="1810.4" y1="2847.3" y2="2858.76" stroke="#333" stroke-width="4.45"/>
<text transform="translate(1810.40,2893.40) scale(1.0,0.915)" font-size="36.67" fill="#4d4d4d" text-anchor="middle">35056000</text>
<text transform="translate(79.30,2748.00) rotate(-90) scale(1.0,0.968)" font-size="45.83" fill="#000" text-anchor="middle">Genes</text>
<text transform="translate(1419.50,2945.10) scale(1.0,0.958)" font-size="45.83" fill="#000" text-anchor="middle">chr7 position (bp)</text>
<line x1="768.3" x2="837.0" y1="2802.0" y2="2802.0" stroke="#00008b" stroke-width="3.9" stroke-linecap="round"/>
<path d="M759.2,2793.6 L768.3,2802.0 L759.2,2810.4" fill="none" stroke="#00008b" stroke-width="3.9" stroke-linejoin="miter" stroke-linecap="butt"/>
<path d="M786.7,2793.6 L795.8,2802.0 L786.7,2810.4" fill="none" stroke="#00008b" stroke-width="3.9" stroke-linejoin="miter" stroke-linecap="butt"/>
<rect x="795.1" y="2788.6" width="41.8" height="26.8" fill="#00008b"/>
<text transform="translate(802.10,2740.00) scale(1.0,0.94)" font-size="29.6" fill="#000" text-anchor="middle">Pepd</text>
<line x1="984.4" x2="1854" y1="2802.0" y2="2802.0" stroke="#006400" stroke-width="3.9" stroke-linecap="round"/>
<path d="M1383.7,2793.6 L1374.6,2802.0 L1383.7,2810.4" fill="none" stroke="#006400" stroke-width="3.9" stroke-linejoin="miter" stroke-linecap="butt"/>
<path d="M1409.8,2793.6 L1400.7,2802.0 L1409.8,2810.4" fill="none" stroke="#006400" stroke-width="3.9" stroke-linejoin="miter" stroke-linecap="butt"/>
<path d="M1435.8,2793.6 L1426.7,2802.0 L1435.8,2810.4" fill="none" stroke="#006400" stroke-width="3.9" stroke-linejoin="miter" stroke-linecap="butt"/>
<path d="M1461.9,2793.6 L1452.8,2802.0 L1461.9,2810.4" fill="none" stroke="#006400" stroke-width="3.9" stroke-linejoin="miter" stroke-linecap="butt"/>
<path d="M1488.0,2793.6 L1478.9,2802.0 L1488.0,2810.4" fill="none" stroke="#006400" stroke-width="3.9" stroke-linejoin="miter" stroke-linecap="butt"/>
<path d="M1514.0,2793.6 L1504.9,2802.0 L1514.0,2810.4" fill="none" stroke="#006400" stroke-width="3.9" stroke-linejoin="miter" stroke-linecap="butt"/>
<path d="M1540.1,2793.6 L1531.0,2802.0 L1540.1,2810.4" fill="none" stroke="#006400" stroke-width="3.9" stroke-linejoin="miter" stroke-linecap="butt"/>
<path d="M1566.2,2793.6 L1557.1,2802.0 L1566.2,2810.4" fill="none" stroke="#006400" stroke-width="3.9" stroke-linejoin="miter" stroke-linecap="butt"/>
<path d="M1592.3,2793.6 L1583.2,2802.0 L1592.3,2810.4" fill="none" stroke="#006400" stroke-width="3.9" stroke-linejoin="miter" stroke-linecap="butt"/>
<path d="M1618.3,2793.6 L1609.2,2802.0 L1618.3,2810.4" fill="none" stroke="#006400" stroke-width="3.9" stroke-linejoin="miter" stroke-linecap="butt"/>
<path d="M1644.4,2793.6 L1635.3,2802.0 L1644.4,2810.4" fill="none" stroke="#006400" stroke-width="3.9" stroke-linejoin="miter" stroke-linecap="butt"/>
<path d="M1670.5,2793.6 L1661.4,2802.0 L1670.5,2810.4" fill="none" stroke="#006400" stroke-width="3.9" stroke-linejoin="miter" stroke-linecap="butt"/>
<path d="M1696.5,2793.6 L1687.4,2802.0 L1696.5,2810.4" fill="none" stroke="#006400" stroke-width="3.9" stroke-linejoin="miter" stroke-linecap="butt"/>
<path d="M1722.6,2793.6 L1713.5,2802.0 L1722.6,2810.4" fill="none" stroke="#006400" stroke-width="3.9" stroke-linejoin="miter" stroke-linecap="butt"/>
<path d="M1748.7,2793.6 L1739.6,2802.0 L1748.7,2810.4" fill="none" stroke="#006400" stroke-width="3.9" stroke-linejoin="miter" stroke-linecap="butt"/>
<path d="M1774.7,2793.6 L1765.6,2802.0 L1774.7,2810.4" fill="none" stroke="#006400" stroke-width="3.9" stroke-linejoin="miter" stroke-linecap="butt"/>
<path d="M1800.8,2793.6 L1791.7,2802.0 L1800.8,2810.4" fill="none" stroke="#006400" stroke-width="3.9" stroke-linejoin="miter" stroke-linecap="butt"/>
<path d="M1826.9,2793.6 L1817.8,2802.0 L1826.9,2810.4" fill="none" stroke="#006400" stroke-width="3.9" stroke-linejoin="miter" stroke-linecap="butt"/>
<rect x="984.4" y="2788.6" width="389.4" height="26.8" fill="#006400"/>
<rect x="1780.3" y="2788.6" width="25.4" height="26.8" fill="#006400"/>
<rect x="1843.1" y="2788.6" width="10.8" height="26.8" fill="#006400"/>
<text transform="translate(1419.20,2740.00) scale(1.0,0.94)" font-size="29.6" fill="#000" text-anchor="middle">Cebpg</text>
</svg>
</body></html>
